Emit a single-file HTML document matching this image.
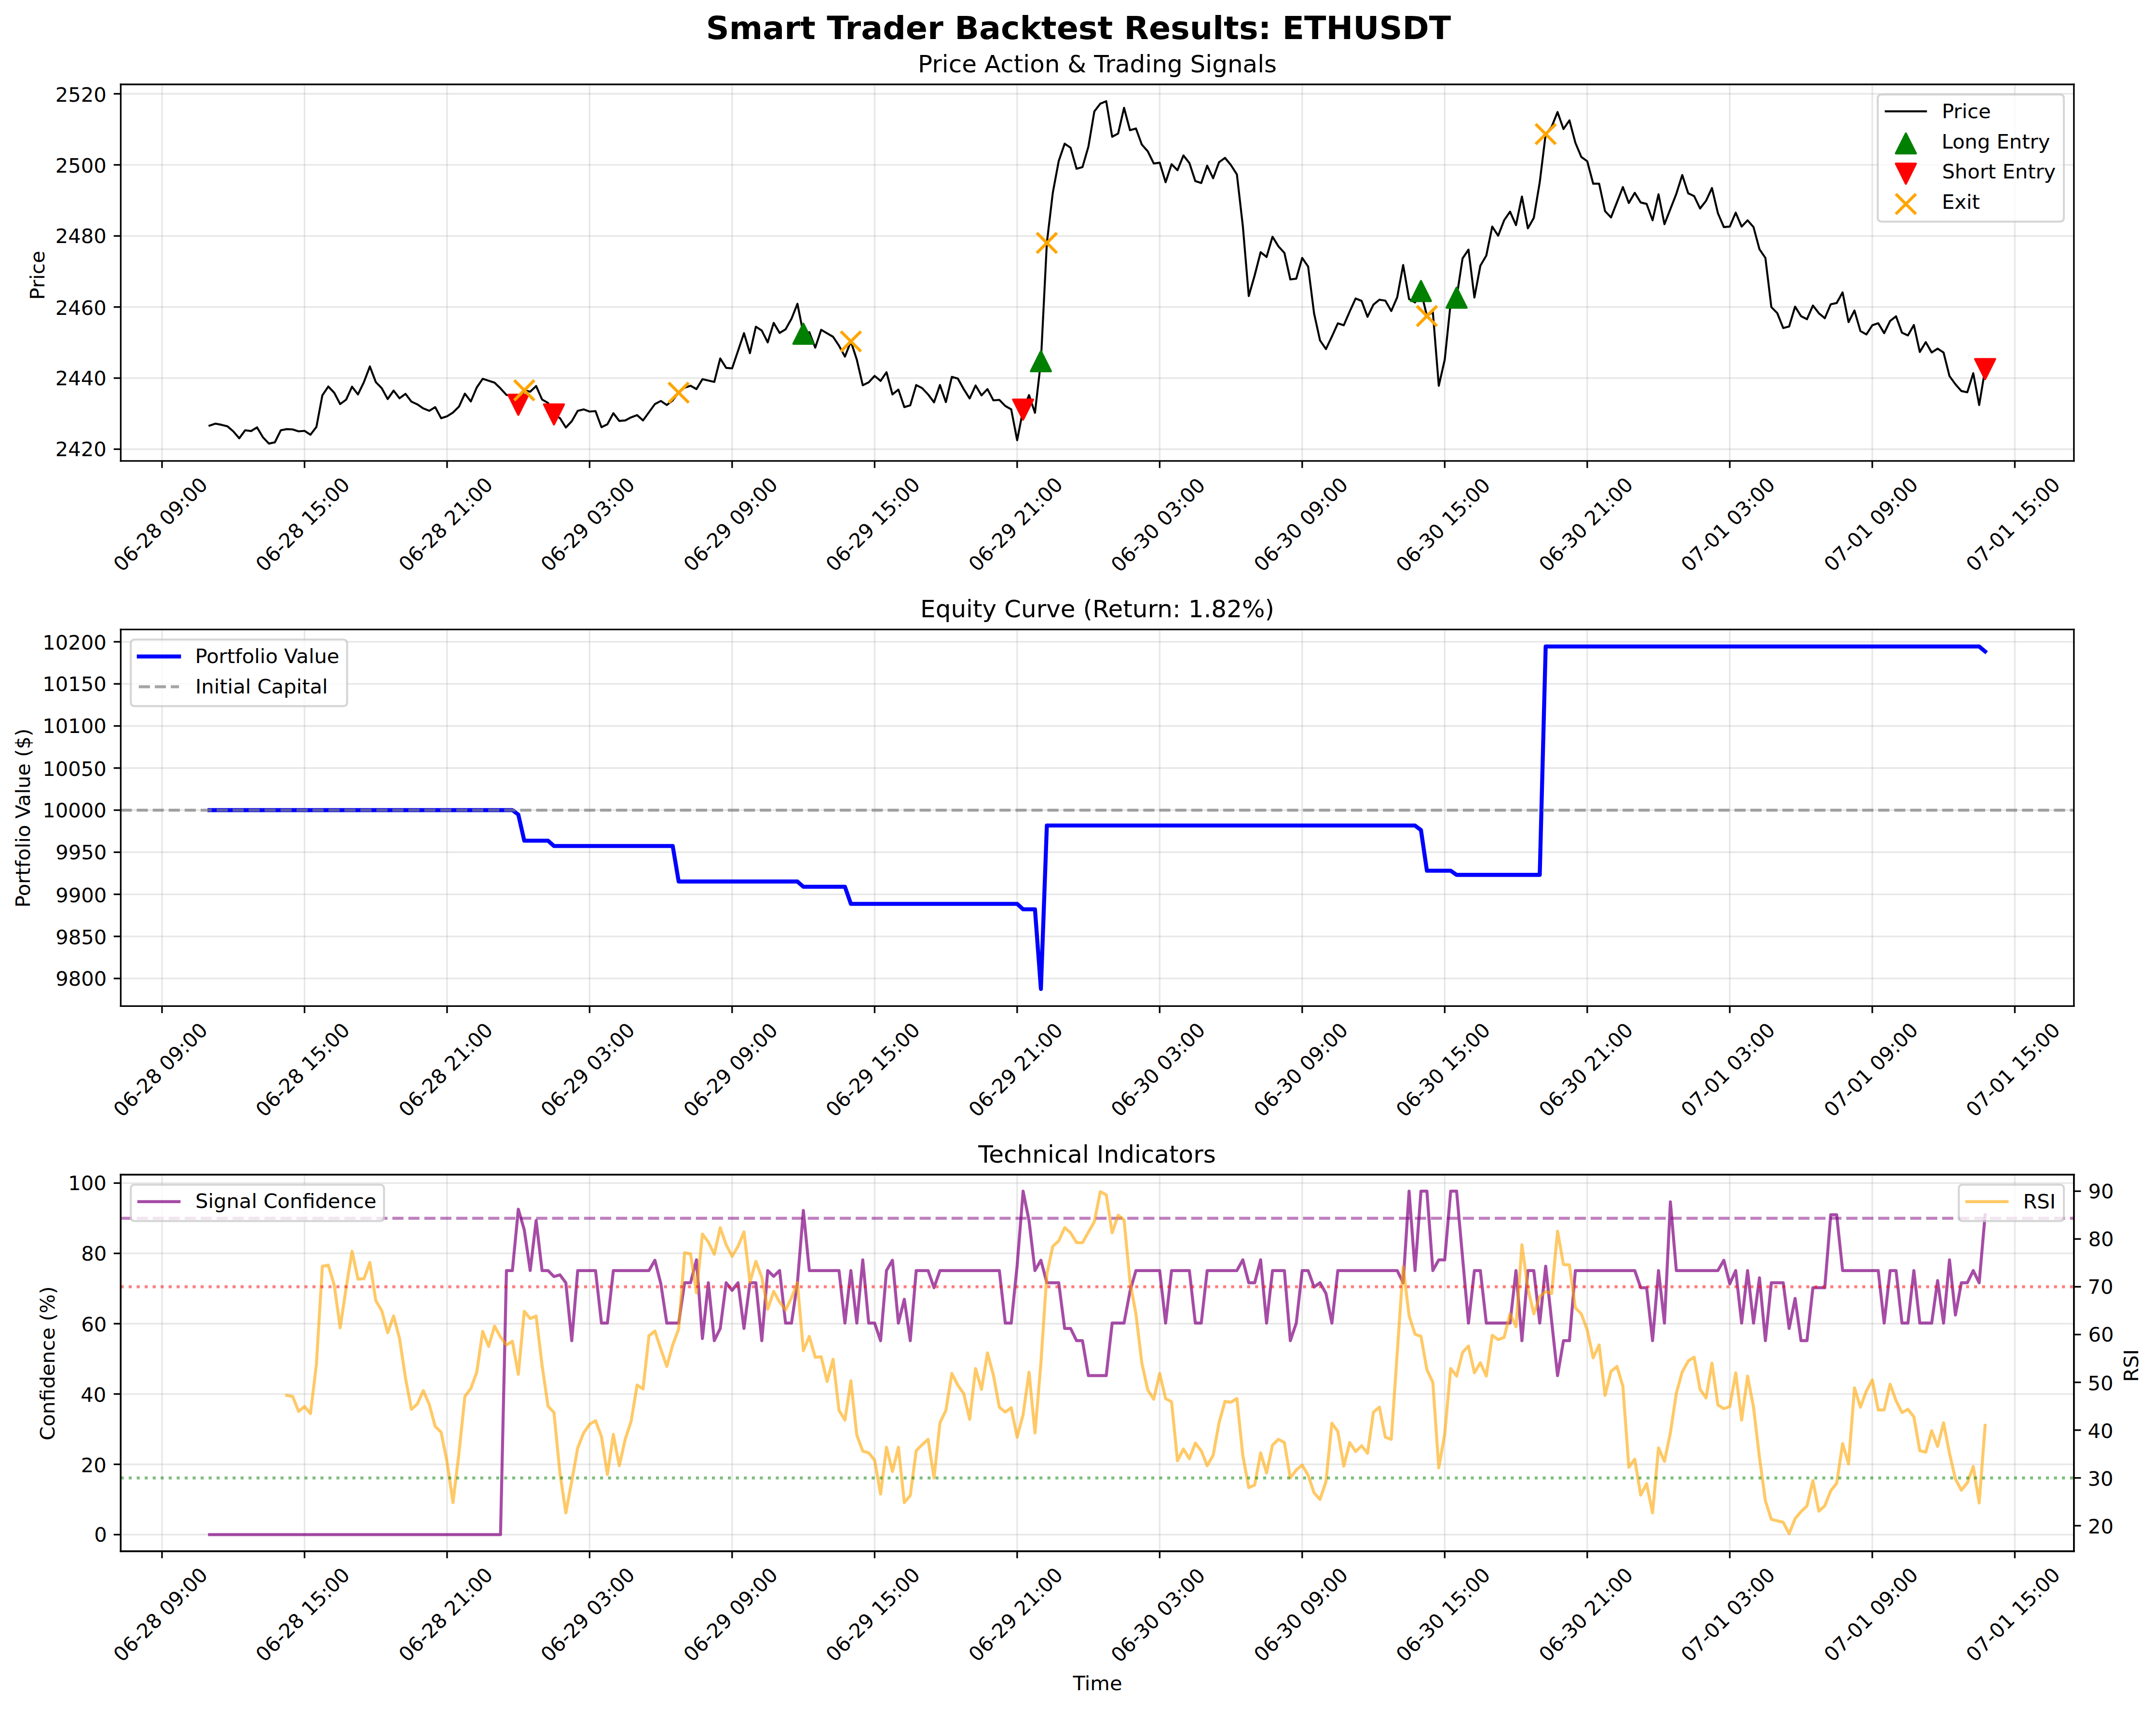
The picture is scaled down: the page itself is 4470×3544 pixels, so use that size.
<!DOCTYPE html>
<html lang="en">
<head>
<meta charset="utf-8">
<title>Smart Trader Backtest Results: ETHUSDT</title>
<style>
html,body{margin:0;padding:0;background:#ffffff;width:4470px;height:3544px;overflow:hidden;}
body{width:4470px;height:3544px;overflow:hidden;position:relative;}
svg{display:block;position:absolute;left:0;top:0;}
</style>
</head>
<body>
<svg width="4470" height="3544" viewBox="0 0 1072.8000 850.5600" preserveAspectRatio="xMinYMin meet">
 <defs>
  <style type="text/css">*{stroke-linejoin: round; stroke-linecap: butt}</style>
 </defs>
 <g id="figure_1">
  <g id="patch_1">
   <path d="M 0 850.616985 L 1072.98 850.616985 L 1072.98 0 L 0 0 z" style="fill: #ffffff"/>
  </g>
  <g id="axes_1">
   <g id="patch_2">
    <path d="M 60.08 229.405933 L 1031.95 229.405933 L 1031.95 42 L 60.08 42 z" style="fill: #ffffff"/>
   </g>
   <g id="matplotlib.axis_1">
    <g id="xtick_1">
     <g id="line2d_1">
      <path d="M 80.616627 229.405933 L 80.616627 42" clip-path="url(#pe644cf9494)" style="fill: none; stroke: #b0b0b0; stroke-opacity: 0.3; stroke-width: 0.8; stroke-linecap: square"/>
     </g>
     <g id="line2d_2">
      <g>
       <path d="M 0 0 L 0 3.5" transform="translate(80.616627 229.405933)" style="stroke: #000000; stroke-width: 0.8"/>
      </g>
     </g>
     <g id="tx000" transform="translate(-0.360 -0.120)">
      <text style="font-size: 10px; font-family: 'DejaVu Sans', 'Liberation Sans', sans-serif" transform="translate(61.089873 285.132661) rotate(-45)">06-28 09:00</text>
     </g>
    </g>
    <g id="xtick_2">
     <g id="line2d_3">
      <path d="M 151.534474 229.405933 L 151.534474 42" clip-path="url(#pe644cf9494)" style="fill: none; stroke: #b0b0b0; stroke-opacity: 0.3; stroke-width: 0.8; stroke-linecap: square"/>
     </g>
     <g id="line2d_4">
      <g>
       <path d="M 0 0 L 0 3.5" transform="translate(151.534474 229.405933)" style="stroke: #000000; stroke-width: 0.8"/>
      </g>
     </g>
     <g id="tx001" transform="translate(-0.480 -0.120)">
      <text style="font-size: 10px; font-family: 'DejaVu Sans', 'Liberation Sans', sans-serif" transform="translate(131.997114 285.153874) rotate(-45)">06-28 15:00</text>
     </g>
    </g>
    <g id="xtick_3">
     <g id="line2d_5">
      <path d="M 222.452321 229.405933 L 222.452321 42" clip-path="url(#pe644cf9494)" style="fill: none; stroke: #b0b0b0; stroke-opacity: 0.3; stroke-width: 0.8; stroke-linecap: square"/>
     </g>
     <g id="line2d_6">
      <g>
       <path d="M 0 0 L 0 3.5" transform="translate(222.452321 229.405933)" style="stroke: #000000; stroke-width: 0.8"/>
      </g>
     </g>
     <g id="tx002" transform="translate(-0.240 -0.120)">
      <text style="font-size: 10px; font-family: 'DejaVu Sans', 'Liberation Sans', sans-serif" transform="translate(202.925568 285.132661) rotate(-45)">06-28 21:00</text>
     </g>
    </g>
    <g id="xtick_4">
     <g id="line2d_7">
      <path d="M 293.370169 229.405933 L 293.370169 42" clip-path="url(#pe644cf9494)" style="fill: none; stroke: #b0b0b0; stroke-opacity: 0.3; stroke-width: 0.8; stroke-linecap: square"/>
     </g>
     <g id="line2d_8">
      <g>
       <path d="M 0 0 L 0 3.5" transform="translate(293.370169 229.405933)" style="stroke: #000000; stroke-width: 0.8"/>
      </g>
     </g>
     <g id="tx003" transform="translate(-0.480 -0.120)">
      <text style="font-size: 10px; font-family: 'DejaVu Sans', 'Liberation Sans', sans-serif" transform="translate(273.843415 285.132661) rotate(-45)">06-29 03:00</text>
     </g>
    </g>
    <g id="xtick_5">
     <g id="line2d_9">
      <path d="M 364.288016 229.405933 L 364.288016 42" clip-path="url(#pe644cf9494)" style="fill: none; stroke: #b0b0b0; stroke-opacity: 0.3; stroke-width: 0.8; stroke-linecap: square"/>
     </g>
     <g id="line2d_10">
      <g>
       <path d="M 0 0 L 0 3.5" transform="translate(364.288016 229.405933)" style="stroke: #000000; stroke-width: 0.8"/>
      </g>
     </g>
     <g id="tx004" transform="translate(-0.360 -0.120)">
      <text style="font-size: 10px; font-family: 'DejaVu Sans', 'Liberation Sans', sans-serif" transform="translate(344.782476 285.090235) rotate(-45)">06-29 09:00</text>
     </g>
    </g>
    <g id="xtick_6">
     <g id="line2d_11">
      <path d="M 435.205863 229.405933 L 435.205863 42" clip-path="url(#pe644cf9494)" style="fill: none; stroke: #b0b0b0; stroke-opacity: 0.3; stroke-width: 0.8; stroke-linecap: square"/>
     </g>
     <g id="line2d_12">
      <g>
       <path d="M 0 0 L 0 3.5" transform="translate(435.205863 229.405933)" style="stroke: #000000; stroke-width: 0.8"/>
      </g>
     </g>
     <g id="tx005" transform="translate(-0.480 -0.120)">
      <text style="font-size: 10px; font-family: 'DejaVu Sans', 'Liberation Sans', sans-serif" transform="translate(415.689716 285.111448) rotate(-45)">06-29 15:00</text>
     </g>
    </g>
    <g id="xtick_7">
     <g id="line2d_13">
      <path d="M 506.123711 229.405933 L 506.123711 42" clip-path="url(#pe644cf9494)" style="fill: none; stroke: #b0b0b0; stroke-opacity: 0.3; stroke-width: 0.8; stroke-linecap: square"/>
     </g>
     <g id="line2d_14">
      <g>
       <path d="M 0 0 L 0 3.5" transform="translate(506.123711 229.405933)" style="stroke: #000000; stroke-width: 0.8"/>
      </g>
     </g>
     <g id="tx006" transform="translate(-0.360 -0.120)">
      <text style="font-size: 10px; font-family: 'DejaVu Sans', 'Liberation Sans', sans-serif" transform="translate(486.61817 285.090235) rotate(-45)">06-29 21:00</text>
     </g>
    </g>
    <g id="xtick_8">
     <g id="line2d_15">
      <path d="M 577.041558 229.405933 L 577.041558 42" clip-path="url(#pe644cf9494)" style="fill: none; stroke: #b0b0b0; stroke-opacity: 0.3; stroke-width: 0.8; stroke-linecap: square"/>
     </g>
     <g id="line2d_16">
      <g>
       <path d="M 0 0 L 0 3.5" transform="translate(577.041558 229.405933)" style="stroke: #000000; stroke-width: 0.8"/>
      </g>
     </g>
     <g id="tx007" transform="translate(-0.360 0.120)">
      <text style="font-size: 10px; font-family: 'DejaVu Sans', 'Liberation Sans', sans-serif" transform="translate(557.482985 285.196301) rotate(-45)">06-30 03:00</text>
     </g>
    </g>
    <g id="xtick_9">
     <g id="line2d_17">
      <path d="M 647.959406 229.405933 L 647.959406 42" clip-path="url(#pe644cf9494)" style="fill: none; stroke: #b0b0b0; stroke-opacity: 0.3; stroke-width: 0.8; stroke-linecap: square"/>
     </g>
     <g id="line2d_18">
      <g>
       <path d="M 0 0 L 0 3.5" transform="translate(647.959406 229.405933)" style="stroke: #000000; stroke-width: 0.8"/>
      </g>
     </g>
     <g id="tx008" transform="translate(-0.240 -0.120)">
      <text style="font-size: 10px; font-family: 'DejaVu Sans', 'Liberation Sans', sans-serif" transform="translate(628.422045 285.153874) rotate(-45)">06-30 09:00</text>
     </g>
    </g>
    <g id="xtick_10">
     <g id="line2d_19">
      <path d="M 718.877253 229.405933 L 718.877253 42" clip-path="url(#pe644cf9494)" style="fill: none; stroke: #b0b0b0; stroke-opacity: 0.3; stroke-width: 0.8; stroke-linecap: square"/>
     </g>
     <g id="line2d_20">
      <g>
       <path d="M 0 0 L 0 3.5" transform="translate(718.877253 229.405933)" style="stroke: #000000; stroke-width: 0.8"/>
      </g>
     </g>
     <g id="tx009" transform="translate(-0.360 0.120)">
      <text style="font-size: 10px; font-family: 'DejaVu Sans', 'Liberation Sans', sans-serif" transform="translate(699.329286 285.175088) rotate(-45)">06-30 15:00</text>
     </g>
    </g>
    <g id="xtick_11">
     <g id="line2d_21">
      <path d="M 789.7951 229.405933 L 789.7951 42" clip-path="url(#pe644cf9494)" style="fill: none; stroke: #b0b0b0; stroke-opacity: 0.3; stroke-width: 0.8; stroke-linecap: square"/>
     </g>
     <g id="line2d_22">
      <g>
       <path d="M 0 0 L 0 3.5" transform="translate(789.7951 229.405933)" style="stroke: #000000; stroke-width: 0.8"/>
      </g>
     </g>
     <g id="tx010" transform="translate(-0.240 -0.120)">
      <text style="font-size: 10px; font-family: 'DejaVu Sans', 'Liberation Sans', sans-serif" transform="translate(770.25774 285.153874) rotate(-45)">06-30 21:00</text>
     </g>
    </g>
    <g id="xtick_12">
     <g id="line2d_23">
      <path d="M 860.712948 229.405933 L 860.712948 42" clip-path="url(#pe644cf9494)" style="fill: none; stroke: #b0b0b0; stroke-opacity: 0.3; stroke-width: 0.8; stroke-linecap: square"/>
     </g>
     <g id="line2d_24">
      <g>
       <path d="M 0 0 L 0 3.5" transform="translate(860.712948 229.405933)" style="stroke: #000000; stroke-width: 0.8"/>
      </g>
     </g>
     <g id="tx011" transform="translate(-0.480 -0.120)">
      <text style="font-size: 10px; font-family: 'DejaVu Sans', 'Liberation Sans', sans-serif" transform="translate(841.175587 285.153874) rotate(-45)">07-01 03:00</text>
     </g>
    </g>
    <g id="xtick_13">
     <g id="line2d_25">
      <path d="M 931.630795 229.405933 L 931.630795 42" clip-path="url(#pe644cf9494)" style="fill: none; stroke: #b0b0b0; stroke-opacity: 0.3; stroke-width: 0.8; stroke-linecap: square"/>
     </g>
     <g id="line2d_26">
      <g>
       <path d="M 0 0 L 0 3.5" transform="translate(931.630795 229.405933)" style="stroke: #000000; stroke-width: 0.8"/>
      </g>
     </g>
     <g id="tx012" transform="translate(-0.240 -0.120)">
      <text style="font-size: 10px; font-family: 'DejaVu Sans', 'Liberation Sans', sans-serif" transform="translate(912.114648 285.111448) rotate(-45)">07-01 09:00</text>
     </g>
    </g>
    <g id="xtick_14">
     <g id="line2d_27">
      <path d="M 1002.548642 229.405933 L 1002.548642 42" clip-path="url(#pe644cf9494)" style="fill: none; stroke: #b0b0b0; stroke-opacity: 0.3; stroke-width: 0.8; stroke-linecap: square"/>
     </g>
     <g id="line2d_28">
      <g>
       <path d="M 0 0 L 0 3.5" transform="translate(1002.548642 229.405933)" style="stroke: #000000; stroke-width: 0.8"/>
      </g>
     </g>
     <g id="tx013" transform="translate(-0.480 -0.120)">
      <text style="font-size: 10px; font-family: 'DejaVu Sans', 'Liberation Sans', sans-serif" transform="translate(983.021889 285.132661) rotate(-45)">07-01 15:00</text>
     </g>
    </g>
   </g>
   <g id="matplotlib.axis_2">
    <g id="ytick_1">
     <g id="line2d_29">
      <path d="M 60.08 223.551708 L 1031.95 223.551708" clip-path="url(#pe644cf9494)" style="fill: none; stroke: #b0b0b0; stroke-opacity: 0.3; stroke-width: 0.8; stroke-linecap: square"/>
     </g>
     <g id="line2d_30">
      <g>
       <path d="M 0 0 L -3.5 0" transform="translate(60.08 223.551708)" style="stroke: #000000; stroke-width: 0.8"/>
      </g>
     </g>
     <g id="tx016" transform="translate(-0.120 -0.360)">
      <text style="font-size: 10px; font-family: 'DejaVu Sans', 'Liberation Sans', sans-serif; text-anchor: end" x="53.08" y="227.511708" transform="rotate(-0 53.08 227.511708)">2420</text>
     </g>
    </g>
    <g id="ytick_2">
     <g id="line2d_31">
      <path d="M 60.08 188.17875 L 1031.95 188.17875" clip-path="url(#pe644cf9494)" style="fill: none; stroke: #b0b0b0; stroke-opacity: 0.3; stroke-width: 0.8; stroke-linecap: square"/>
     </g>
     <g id="line2d_32">
      <g>
       <path d="M 0 0 L -3.5 0" transform="translate(60.08 188.17875)" style="stroke: #000000; stroke-width: 0.8"/>
      </g>
     </g>
     <g id="tx017" transform="translate(-0.120 -0.360)">
      <text style="font-size: 10px; font-family: 'DejaVu Sans', 'Liberation Sans', sans-serif; text-anchor: end" x="53.08" y="192.13875" transform="rotate(-0 53.08 192.13875)">2440</text>
     </g>
    </g>
    <g id="ytick_3">
     <g id="line2d_33">
      <path d="M 60.08 152.805792 L 1031.95 152.805792" clip-path="url(#pe644cf9494)" style="fill: none; stroke: #b0b0b0; stroke-opacity: 0.3; stroke-width: 0.8; stroke-linecap: square"/>
     </g>
     <g id="line2d_34">
      <g>
       <path d="M 0 0 L -3.5 0" transform="translate(60.08 152.805792)" style="stroke: #000000; stroke-width: 0.8"/>
      </g>
     </g>
     <g id="tx018" transform="translate(-0.120 -0.120)">
      <text style="font-size: 10px; font-family: 'DejaVu Sans', 'Liberation Sans', sans-serif; text-anchor: end" x="53.08" y="156.765792" transform="rotate(-0 53.08 156.765792)">2460</text>
     </g>
    </g>
    <g id="ytick_4">
     <g id="line2d_35">
      <path d="M 60.08 117.432834 L 1031.95 117.432834" clip-path="url(#pe644cf9494)" style="fill: none; stroke: #b0b0b0; stroke-opacity: 0.3; stroke-width: 0.8; stroke-linecap: square"/>
     </g>
     <g id="line2d_36">
      <g>
       <path d="M 0 0 L -3.5 0" transform="translate(60.08 117.432834)" style="stroke: #000000; stroke-width: 0.8"/>
      </g>
     </g>
     <g id="tx019" transform="translate(-0.120 -0.360)">
      <text style="font-size: 10px; font-family: 'DejaVu Sans', 'Liberation Sans', sans-serif; text-anchor: end" x="53.08" y="121.392834" transform="rotate(-0 53.08 121.392834)">2480</text>
     </g>
    </g>
    <g id="ytick_5">
     <g id="line2d_37">
      <path d="M 60.08 82.059875 L 1031.95 82.059875" clip-path="url(#pe644cf9494)" style="fill: none; stroke: #b0b0b0; stroke-opacity: 0.3; stroke-width: 0.8; stroke-linecap: square"/>
     </g>
     <g id="line2d_38">
      <g>
       <path d="M 0 0 L -3.5 0" transform="translate(60.08 82.059875)" style="stroke: #000000; stroke-width: 0.8"/>
      </g>
     </g>
     <g id="tx020" transform="translate(-0.120 -0.120)">
      <text style="font-size: 10px; font-family: 'DejaVu Sans', 'Liberation Sans', sans-serif; text-anchor: end" x="53.08" y="86.019875" transform="rotate(-0 53.08 86.019875)">2500</text>
     </g>
    </g>
    <g id="ytick_6">
     <g id="line2d_39">
      <path d="M 60.08 46.686917 L 1031.95 46.686917" clip-path="url(#pe644cf9494)" style="fill: none; stroke: #b0b0b0; stroke-opacity: 0.3; stroke-width: 0.8; stroke-linecap: square"/>
     </g>
     <g id="line2d_40">
      <g>
       <path d="M 0 0 L -3.5 0" transform="translate(60.08 46.686917)" style="stroke: #000000; stroke-width: 0.8"/>
      </g>
     </g>
     <g id="tx021" transform="translate(-0.120 -0.120)">
      <text style="font-size: 10px; font-family: 'DejaVu Sans', 'Liberation Sans', sans-serif; text-anchor: end" x="53.08" y="50.646917" transform="rotate(-0 53.08 50.646917)">2520</text>
     </g>
    </g>
    <g id="tx014" transform="translate(0.720 1.320)">
     <text style="font-size: 10px; font-family: 'DejaVu Sans', 'Liberation Sans', sans-serif; text-anchor: middle" x="21.48" y="135.702966" transform="rotate(-90 21.48 135.702966)">Price</text>
    </g>
   </g>
   <g id="line2d_41">
    <path d="M 104.255909 211.848819 L 107.210819 210.841373 L 110.16573 211.417056 L 113.12064 212.13666 L 116.07555 214.679262 L 119.030461 218.133362 L 121.985371 214.151552 L 124.940281 214.535341 L 127.895192 212.712344 L 130.850102 217.653626 L 133.805012 220.77191 L 136.759922 220.148253 L 139.714833 214.151552 L 142.669743 213.575869 L 145.624653 213.719789 L 148.579564 214.679262 L 151.534474 214.439394 L 154.489384 216.358338 L 157.444295 212.472476 L 160.399205 196.785105 L 163.354115 192.371532 L 166.309026 195.489817 L 169.263936 201.10273 L 172.218846 198.943917 L 175.173756 192.46748 L 178.128667 196.305369 L 181.083577 190.164746 L 184.038487 182.393021 L 186.993398 190.164746 L 189.948308 193.187084 L 192.903218 198.608102 L 195.858129 194.386424 L 198.813039 198.224313 L 201.767949 196.017527 L 204.72286 199.903389 L 207.67777 201.246651 L 210.63268 203.261542 L 213.58759 204.460882 L 216.542501 202.637885 L 219.497411 208.154851 L 222.452321 207.195378 L 225.407232 205.324407 L 228.362142 202.398017 L 231.317052 195.92158 L 234.271963 199.807442 L 237.226873 192.851269 L 240.181783 188.533644 L 246.091604 190.452588 L 249.046514 193.331005 L 252.001424 196.545237 L 254.956335 197.024973 L 257.911245 201.449609 L 260.866155 194.250228 L 263.821066 194.962107 L 266.775976 192.131664 L 269.730886 198.84797 L 272.685797 200.527046 L 275.640707 206.249196 L 278.595617 208.058903 L 281.550528 212.760317 L 284.505438 209.642032 L 287.460348 204.460882 L 290.415258 203.741278 L 293.370169 204.844671 L 296.325079 204.604803 L 299.279989 212.610831 L 302.2349 211.166057 L 305.18981 205.649092 L 308.14472 209.486981 L 311.099631 209.247113 L 314.054541 207.711957 L 317.009451 206.608564 L 319.964362 209.247113 L 325.874182 201.091599 L 328.829092 199.556443 L 331.784003 201.571335 L 334.738913 199.268602 L 337.693823 195.426127 L 340.648734 192.936085 L 343.603644 191.976613 L 346.558554 193.655689 L 349.513465 188.714407 L 355.423285 190.057668 L 358.378196 178.400081 L 361.333106 183.101495 L 364.288016 183.341363 L 370.197837 165.830995 L 373.152747 175.761532 L 376.107657 162.616763 L 379.062568 164.535707 L 382.017478 170.388488 L 384.972388 160.697818 L 387.927299 165.687074 L 390.882209 163.91205 L 393.837119 158.634953 L 396.792029 151.194591 L 399.74694 166.076651 L 402.70185 165.346806 L 405.65676 173.022584 L 408.611671 164.147466 L 414.521491 167.601566 L 417.476402 172.063112 L 420.431312 177.48413 L 423.386222 169.91632 L 426.341133 179.019285 L 429.296043 191.732292 L 432.250953 190.293084 L 435.205863 187.078852 L 438.160774 189.57348 L 441.115684 185.255855 L 444.070594 196.289785 L 447.025505 193.891105 L 449.980415 202.622302 L 452.935325 201.710804 L 455.890236 191.636345 L 458.845146 193.171501 L 461.800056 196.289785 L 464.754967 200.223622 L 467.709877 191.636345 L 470.664787 200.127674 L 473.619697 187.558588 L 476.574608 188.37414 L 479.529518 193.651237 L 482.484428 198.304677 L 485.439339 191.876213 L 488.394249 196.769522 L 491.349159 193.651237 L 494.30407 199.264783 L 497.25898 199.014022 L 500.21389 202.052071 L 503.168801 203.724063 L 506.123711 219.081619 L 509.078621 203.849403 L 512.033531 196.664541 L 514.988442 205.45798 L 517.943352 179.755474 L 520.898262 120.912534 L 523.853173 95.978189 L 526.808083 80.146897 L 529.762993 71.511647 L 532.717904 73.526539 L 535.672814 83.984786 L 538.627724 83.169234 L 541.582635 72.950855 L 544.537545 55.440487 L 547.492455 51.602598 L 550.447365 50.403258 L 553.402276 68.057547 L 556.357186 66.474418 L 559.312096 53.665463 L 562.267007 64.795341 L 565.221917 63.931816 L 568.176827 71.991383 L 571.131738 75.349536 L 574.086648 81.346237 L 577.041558 80.962448 L 579.996469 90.701091 L 582.951379 81.730026 L 585.906289 84.70439 L 588.861199 77.364427 L 591.81611 81.106369 L 594.77102 90.125408 L 597.72593 91.08488 L 600.680841 82.44963 L 603.635751 88.6862 L 606.590661 80.72258 L 609.545572 78.563768 L 612.500482 82.161789 L 615.455392 86.767255 L 618.410303 112.416942 L 621.365213 147.325536 L 624.320123 137.011209 L 627.275033 125.497543 L 630.229944 127.896223 L 633.184854 117.821765 L 636.139764 122.619126 L 639.094675 125.833358 L 642.049585 139.074075 L 645.004495 138.690286 L 647.959406 128.375959 L 650.914316 132.693584 L 653.869226 155.9875 L 656.824137 169.420111 L 659.779047 173.737736 L 662.733957 167.501166 L 665.688867 160.928782 L 668.643778 161.888254 L 671.598688 155.028027 L 674.553598 148.55159 L 677.508509 149.75093 L 680.463419 157.666576 L 683.418329 151.573927 L 686.37324 149.175247 L 689.32815 149.654983 L 692.28306 154.788159 L 695.237971 147.927933 L 698.192881 131.904747 L 701.147791 148.87013 L 704.102701 150.549986 L 707.057612 144.838477 L 710.012522 157.293406 L 712.967432 155.325575 L 715.922343 191.994422 L 718.877253 179.035536 L 721.832163 150.717971 L 724.787074 148.150192 L 727.741984 128.63987 L 730.696894 124.22425 L 733.651805 148.0542 L 736.606715 132.23956 L 739.561625 127.199994 L 742.516535 112.768953 L 745.471446 117.326446 L 748.426356 109.650668 L 751.381266 105.333043 L 754.336177 112.049348 L 757.291087 97.801186 L 760.245997 113.632478 L 763.200908 108.451328 L 766.155818 90.701091 L 769.110728 66.725194 L 772.065638 63.116265 L 775.020549 55.776302 L 777.975459 64.219658 L 780.930369 59.902033 L 783.88528 71.031911 L 786.84019 78.132005 L 789.7951 80.242844 L 792.750011 91.420696 L 795.704921 91.420696 L 798.659831 105.093175 L 801.614742 108.21146 L 807.524562 93.099772 L 810.479472 101.015418 L 813.434383 95.978189 L 816.389293 100.77555 L 819.344203 101.495154 L 822.299114 109.657346 L 825.254024 96.71115 L 828.208934 111.582969 L 834.118755 96.471282 L 837.073665 87.116427 L 840.028576 96.231414 L 842.983486 97.574675 L 845.938396 103.763271 L 848.893306 99.973355 L 851.848217 93.592865 L 854.803127 106.066004 L 857.758037 113.022178 L 860.712948 112.782309 L 863.667858 105.826136 L 866.622768 112.782309 L 869.577679 109.664025 L 872.532589 113.022178 L 875.487499 124.056108 L 878.44241 128.373733 L 881.39732 152.840275 L 884.35223 155.85353 L 887.30714 163.268892 L 890.262051 162.466163 L 893.216961 152.631573 L 896.171871 157.332987 L 899.126782 158.868142 L 902.081692 152.05589 L 905.036602 155.893779 L 907.991513 158.388406 L 910.946423 151.432233 L 913.901333 150.808576 L 916.856244 145.531479 L 919.811154 160.307351 L 922.766064 154.550517 L 925.720974 164.768897 L 928.675885 166.447973 L 931.630795 161.89048 L 934.585705 160.883034 L 937.540616 165.824316 L 940.495526 159.731667 L 943.450436 157.428934 L 946.405347 165.584448 L 949.360257 166.927709 L 952.315167 161.746559 L 955.270078 175.17917 L 958.224988 170.285862 L 961.179898 175.419038 L 964.134808 173.500094 L 967.089719 175.419038 L 970.044629 187.172573 L 972.999539 191.25033 L 975.95445 194.608483 L 978.90936 195.23214 L 981.86427 185.733365 L 984.819181 201.564657 L 987.774091 183.691136 L 987.774091 183.691136" clip-path="url(#pe644cf9494)" style="fill: none; stroke: #000000; stroke-linecap: square"/>
   </g>
   <g id="patch_3">
    <path d="M 60.08 229.405933 L 60.08 42" style="fill: none; stroke: #000000; stroke-width: 0.8; stroke-linejoin: miter; stroke-linecap: square"/>
   </g>
   <g id="patch_4">
    <path d="M 1031.95 229.405933 L 1031.95 42" style="fill: none; stroke: #000000; stroke-width: 0.8; stroke-linejoin: miter; stroke-linecap: square"/>
   </g>
   <g id="patch_5">
    <path d="M 60.08 229.405933 L 1031.95 229.405933" style="fill: none; stroke: #000000; stroke-width: 0.8; stroke-linejoin: miter; stroke-linecap: square"/>
   </g>
   <g id="patch_6">
    <path d="M 60.08 42 L 1031.95 42" style="fill: none; stroke: #000000; stroke-width: 0.8; stroke-linejoin: miter; stroke-linecap: square"/>
   </g>
   <g id="tx023" transform="translate(0.000 0.000)">
    <text style="font-size: 12px; font-family: 'DejaVu Sans', 'Liberation Sans', sans-serif; text-anchor: middle" x="546.015" y="36" transform="rotate(-0 546.015 36)">Price Action &amp; Trading Signals</text>
   </g>
   <g id="PathCollection_1">
    <g clip-path="url(#pe644cf9494)">
     <path d="M 0 -5 L -5 5 L 5 5 z" transform="translate(399.74694 166.076651)" style="fill: #008000; stroke: #008000"/>
     <path d="M 0 -5 L -5 5 L 5 5 z" transform="translate(517.943352 179.755474)" style="fill: #008000; stroke: #008000"/>
     <path d="M 0 -5 L -5 5 L 5 5 z" transform="translate(707.057612 144.838477)" style="fill: #008000; stroke: #008000"/>
     <path d="M 0 -5 L -5 5 L 5 5 z" transform="translate(724.787074 148.150192)" style="fill: #008000; stroke: #008000"/>
    </g>
   </g>
   <g id="PathCollection_2">
    <g clip-path="url(#pe644cf9494)">
     <path d="M -0 5 L 5 -5 L -5 -5 z" transform="translate(257.911245 201.449609)" style="fill: #ff0000; stroke: #ff0000"/>
     <path d="M -0 5 L 5 -5 L -5 -5 z" transform="translate(275.640707 206.249196)" style="fill: #ff0000; stroke: #ff0000"/>
     <path d="M -0 5 L 5 -5 L -5 -5 z" transform="translate(509.078621 203.849403)" style="fill: #ff0000; stroke: #ff0000"/>
     <path d="M -0 5 L 5 -5 L -5 -5 z" transform="translate(987.774091 183.691136)" style="fill: #ff0000; stroke: #ff0000"/>
    </g>
   </g>
   <g id="PathCollection_3">
    <g clip-path="url(#pe644cf9494)">
     <path d="M -5 5 L 5 -5 M -5 -5 L 5 5" transform="translate(260.866155 194.250228)" style="fill: #ffa500; stroke: #ffa500; stroke-width: 1.5"/>
     <path d="M -5 5 L 5 -5 M -5 -5 L 5 5" transform="translate(337.693823 195.426127)" style="fill: #ffa500; stroke: #ffa500; stroke-width: 1.5"/>
     <path d="M -5 5 L 5 -5 M -5 -5 L 5 5" transform="translate(423.386222 169.91632)" style="fill: #ffa500; stroke: #ffa500; stroke-width: 1.5"/>
     <path d="M -5 5 L 5 -5 M -5 -5 L 5 5" transform="translate(520.898262 120.912534)" style="fill: #ffa500; stroke: #ffa500; stroke-width: 1.5"/>
     <path d="M -5 5 L 5 -5 M -5 -5 L 5 5" transform="translate(710.012522 157.293406)" style="fill: #ffa500; stroke: #ffa500; stroke-width: 1.5"/>
     <path d="M -5 5 L 5 -5 M -5 -5 L 5 5" transform="translate(769.110728 66.725194)" style="fill: #ffa500; stroke: #ffa500; stroke-width: 1.5"/>
    </g>
   </g>
   <g id="legend_1">
    <g id="patch_7">
     <path d="M 936.34 110.32 L 1024.95 110.32 Q 1026.95 110.32 1026.95 108.32 L 1026.95 49 Q 1026.95 47 1024.95 47 L 936.34 47 Q 934.34 47 934.34 49 L 934.34 108.32 Q 934.34 110.32 936.34 110.32 z" style="fill: #ffffff; opacity: 0.8; stroke: #cccccc; stroke-linejoin: miter"/>
    </g>
    <g id="line2d_42">
     <path d="M 938.34 55.42 L 948.34 55.42 L 958.34 55.42" style="fill: none; stroke: #000000; stroke-linecap: square"/>
    </g>
    <g id="tx024" transform="translate(-0.120 0.000)">
     <text style="font-size: 10px; font-family: 'DejaVu Sans', 'Liberation Sans', sans-serif; text-anchor: start" x="966.34" y="58.92" transform="rotate(-0 966.34 58.92)">Price</text>
    </g>
    <g id="PathCollection_4">
     <g>
      <path d="M 0 -5 L -5 5 L 5 5 z" transform="translate(948.34 71.375)" style="fill: #008000; stroke: #008000"/>
     </g>
    </g>
    <g id="tx025" transform="translate(-0.240 -0.120)">
     <text style="font-size: 10px; font-family: 'DejaVu Sans', 'Liberation Sans', sans-serif; text-anchor: start" x="966.34" y="74" transform="rotate(-0 966.34 74)">Long Entry</text>
    </g>
    <g id="PathCollection_5">
     <g>
      <path d="M -0 5 L 5 -5 L -5 -5 z" transform="translate(948.34 86.455)" style="fill: #ff0000; stroke: #ff0000"/>
     </g>
    </g>
    <g id="tx026" transform="translate(0.000 -0.240)">
     <text style="font-size: 10px; font-family: 'DejaVu Sans', 'Liberation Sans', sans-serif; text-anchor: start" x="966.34" y="89.08" transform="rotate(-0 966.34 89.08)">Short Entry</text>
    </g>
    <g id="PathCollection_6">
     <g>
      <path d="M -5 5 L 5 -5 M -5 -5 L 5 5" transform="translate(948.34 101.535)" style="fill: #ffa500; stroke: #ffa500; stroke-width: 1.5"/>
     </g>
    </g>
    <g id="tx027" transform="translate(-0.120 -0.240)">
     <text style="font-size: 10px; font-family: 'DejaVu Sans', 'Liberation Sans', sans-serif; text-anchor: start" x="966.34" y="104.16" transform="rotate(-0 966.34 104.16)">Exit</text>
    </g>
   </g>
  </g>
  <g id="axes_2">
   <g id="patch_8">
    <path d="M 60.08 500.7126 L 1031.95 500.7126 L 1031.95 313.306667 L 60.08 313.306667 z" style="fill: #ffffff"/>
   </g>
   <g id="matplotlib.axis_3">
    <g id="xtick_15">
     <g id="line2d_43">
      <path d="M 80.616627 500.7126 L 80.616627 313.306667" clip-path="url(#p9d5c9749b2)" style="fill: none; stroke: #b0b0b0; stroke-opacity: 0.3; stroke-width: 0.8; stroke-linecap: square"/>
     </g>
     <g id="line2d_44">
      <g>
       <path d="M 0 0 L 0 3.5" transform="translate(80.616627 500.7126)" style="stroke: #000000; stroke-width: 0.8"/>
      </g>
     </g>
     <g id="tx028" transform="translate(-0.360 0.000)">
      <text style="font-size: 10px; font-family: 'DejaVu Sans', 'Liberation Sans', sans-serif" transform="translate(61.089873 556.439328) rotate(-45)">06-28 09:00</text>
     </g>
    </g>
    <g id="xtick_16">
     <g id="line2d_45">
      <path d="M 151.534474 500.7126 L 151.534474 313.306667" clip-path="url(#p9d5c9749b2)" style="fill: none; stroke: #b0b0b0; stroke-opacity: 0.3; stroke-width: 0.8; stroke-linecap: square"/>
     </g>
     <g id="line2d_46">
      <g>
       <path d="M 0 0 L 0 3.5" transform="translate(151.534474 500.7126)" style="stroke: #000000; stroke-width: 0.8"/>
      </g>
     </g>
     <g id="tx029" transform="translate(-0.480 0.000)">
      <text style="font-size: 10px; font-family: 'DejaVu Sans', 'Liberation Sans', sans-serif" transform="translate(131.997114 556.460541) rotate(-45)">06-28 15:00</text>
     </g>
    </g>
    <g id="xtick_17">
     <g id="line2d_47">
      <path d="M 222.452321 500.7126 L 222.452321 313.306667" clip-path="url(#p9d5c9749b2)" style="fill: none; stroke: #b0b0b0; stroke-opacity: 0.3; stroke-width: 0.8; stroke-linecap: square"/>
     </g>
     <g id="line2d_48">
      <g>
       <path d="M 0 0 L 0 3.5" transform="translate(222.452321 500.7126)" style="stroke: #000000; stroke-width: 0.8"/>
      </g>
     </g>
     <g id="tx030" transform="translate(-0.240 0.000)">
      <text style="font-size: 10px; font-family: 'DejaVu Sans', 'Liberation Sans', sans-serif" transform="translate(202.925568 556.439328) rotate(-45)">06-28 21:00</text>
     </g>
    </g>
    <g id="xtick_18">
     <g id="line2d_49">
      <path d="M 293.370169 500.7126 L 293.370169 313.306667" clip-path="url(#p9d5c9749b2)" style="fill: none; stroke: #b0b0b0; stroke-opacity: 0.3; stroke-width: 0.8; stroke-linecap: square"/>
     </g>
     <g id="line2d_50">
      <g>
       <path d="M 0 0 L 0 3.5" transform="translate(293.370169 500.7126)" style="stroke: #000000; stroke-width: 0.8"/>
      </g>
     </g>
     <g id="tx031" transform="translate(-0.480 0.000)">
      <text style="font-size: 10px; font-family: 'DejaVu Sans', 'Liberation Sans', sans-serif" transform="translate(273.843415 556.439328) rotate(-45)">06-29 03:00</text>
     </g>
    </g>
    <g id="xtick_19">
     <g id="line2d_51">
      <path d="M 364.288016 500.7126 L 364.288016 313.306667" clip-path="url(#p9d5c9749b2)" style="fill: none; stroke: #b0b0b0; stroke-opacity: 0.3; stroke-width: 0.8; stroke-linecap: square"/>
     </g>
     <g id="line2d_52">
      <g>
       <path d="M 0 0 L 0 3.5" transform="translate(364.288016 500.7126)" style="stroke: #000000; stroke-width: 0.8"/>
      </g>
     </g>
     <g id="tx032" transform="translate(-0.360 0.120)">
      <text style="font-size: 10px; font-family: 'DejaVu Sans', 'Liberation Sans', sans-serif" transform="translate(344.782476 556.396902) rotate(-45)">06-29 09:00</text>
     </g>
    </g>
    <g id="xtick_20">
     <g id="line2d_53">
      <path d="M 435.205863 500.7126 L 435.205863 313.306667" clip-path="url(#p9d5c9749b2)" style="fill: none; stroke: #b0b0b0; stroke-opacity: 0.3; stroke-width: 0.8; stroke-linecap: square"/>
     </g>
     <g id="line2d_54">
      <g>
       <path d="M 0 0 L 0 3.5" transform="translate(435.205863 500.7126)" style="stroke: #000000; stroke-width: 0.8"/>
      </g>
     </g>
     <g id="tx033" transform="translate(-0.480 0.000)">
      <text style="font-size: 10px; font-family: 'DejaVu Sans', 'Liberation Sans', sans-serif" transform="translate(415.689716 556.418115) rotate(-45)">06-29 15:00</text>
     </g>
    </g>
    <g id="xtick_21">
     <g id="line2d_55">
      <path d="M 506.123711 500.7126 L 506.123711 313.306667" clip-path="url(#p9d5c9749b2)" style="fill: none; stroke: #b0b0b0; stroke-opacity: 0.3; stroke-width: 0.8; stroke-linecap: square"/>
     </g>
     <g id="line2d_56">
      <g>
       <path d="M 0 0 L 0 3.5" transform="translate(506.123711 500.7126)" style="stroke: #000000; stroke-width: 0.8"/>
      </g>
     </g>
     <g id="tx034" transform="translate(-0.360 0.120)">
      <text style="font-size: 10px; font-family: 'DejaVu Sans', 'Liberation Sans', sans-serif" transform="translate(486.61817 556.396902) rotate(-45)">06-29 21:00</text>
     </g>
    </g>
    <g id="xtick_22">
     <g id="line2d_57">
      <path d="M 577.041558 500.7126 L 577.041558 313.306667" clip-path="url(#p9d5c9749b2)" style="fill: none; stroke: #b0b0b0; stroke-opacity: 0.3; stroke-width: 0.8; stroke-linecap: square"/>
     </g>
     <g id="line2d_58">
      <g>
       <path d="M 0 0 L 0 3.5" transform="translate(577.041558 500.7126)" style="stroke: #000000; stroke-width: 0.8"/>
      </g>
     </g>
     <g id="tx035" transform="translate(-0.360 -0.120)">
      <text style="font-size: 10px; font-family: 'DejaVu Sans', 'Liberation Sans', sans-serif" transform="translate(557.482985 556.502968) rotate(-45)">06-30 03:00</text>
     </g>
    </g>
    <g id="xtick_23">
     <g id="line2d_59">
      <path d="M 647.959406 500.7126 L 647.959406 313.306667" clip-path="url(#p9d5c9749b2)" style="fill: none; stroke: #b0b0b0; stroke-opacity: 0.3; stroke-width: 0.8; stroke-linecap: square"/>
     </g>
     <g id="line2d_60">
      <g>
       <path d="M 0 0 L 0 3.5" transform="translate(647.959406 500.7126)" style="stroke: #000000; stroke-width: 0.8"/>
      </g>
     </g>
     <g id="tx036" transform="translate(-0.240 0.000)">
      <text style="font-size: 10px; font-family: 'DejaVu Sans', 'Liberation Sans', sans-serif" transform="translate(628.422045 556.460541) rotate(-45)">06-30 09:00</text>
     </g>
    </g>
    <g id="xtick_24">
     <g id="line2d_61">
      <path d="M 718.877253 500.7126 L 718.877253 313.306667" clip-path="url(#p9d5c9749b2)" style="fill: none; stroke: #b0b0b0; stroke-opacity: 0.3; stroke-width: 0.8; stroke-linecap: square"/>
     </g>
     <g id="line2d_62">
      <g>
       <path d="M 0 0 L 0 3.5" transform="translate(718.877253 500.7126)" style="stroke: #000000; stroke-width: 0.8"/>
      </g>
     </g>
     <g id="tx037" transform="translate(-0.360 0.000)">
      <text style="font-size: 10px; font-family: 'DejaVu Sans', 'Liberation Sans', sans-serif" transform="translate(699.329286 556.481754) rotate(-45)">06-30 15:00</text>
     </g>
    </g>
    <g id="xtick_25">
     <g id="line2d_63">
      <path d="M 789.7951 500.7126 L 789.7951 313.306667" clip-path="url(#p9d5c9749b2)" style="fill: none; stroke: #b0b0b0; stroke-opacity: 0.3; stroke-width: 0.8; stroke-linecap: square"/>
     </g>
     <g id="line2d_64">
      <g>
       <path d="M 0 0 L 0 3.5" transform="translate(789.7951 500.7126)" style="stroke: #000000; stroke-width: 0.8"/>
      </g>
     </g>
     <g id="tx038" transform="translate(-0.240 0.000)">
      <text style="font-size: 10px; font-family: 'DejaVu Sans', 'Liberation Sans', sans-serif" transform="translate(770.25774 556.460541) rotate(-45)">06-30 21:00</text>
     </g>
    </g>
    <g id="xtick_26">
     <g id="line2d_65">
      <path d="M 860.712948 500.7126 L 860.712948 313.306667" clip-path="url(#p9d5c9749b2)" style="fill: none; stroke: #b0b0b0; stroke-opacity: 0.3; stroke-width: 0.8; stroke-linecap: square"/>
     </g>
     <g id="line2d_66">
      <g>
       <path d="M 0 0 L 0 3.5" transform="translate(860.712948 500.7126)" style="stroke: #000000; stroke-width: 0.8"/>
      </g>
     </g>
     <g id="tx039" transform="translate(-0.480 0.000)">
      <text style="font-size: 10px; font-family: 'DejaVu Sans', 'Liberation Sans', sans-serif" transform="translate(841.175587 556.460541) rotate(-45)">07-01 03:00</text>
     </g>
    </g>
    <g id="xtick_27">
     <g id="line2d_67">
      <path d="M 931.630795 500.7126 L 931.630795 313.306667" clip-path="url(#p9d5c9749b2)" style="fill: none; stroke: #b0b0b0; stroke-opacity: 0.3; stroke-width: 0.8; stroke-linecap: square"/>
     </g>
     <g id="line2d_68">
      <g>
       <path d="M 0 0 L 0 3.5" transform="translate(931.630795 500.7126)" style="stroke: #000000; stroke-width: 0.8"/>
      </g>
     </g>
     <g id="tx040" transform="translate(-0.240 0.000)">
      <text style="font-size: 10px; font-family: 'DejaVu Sans', 'Liberation Sans', sans-serif" transform="translate(912.114648 556.418115) rotate(-45)">07-01 09:00</text>
     </g>
    </g>
    <g id="xtick_28">
     <g id="line2d_69">
      <path d="M 1002.548642 500.7126 L 1002.548642 313.306667" clip-path="url(#p9d5c9749b2)" style="fill: none; stroke: #b0b0b0; stroke-opacity: 0.3; stroke-width: 0.8; stroke-linecap: square"/>
     </g>
     <g id="line2d_70">
      <g>
       <path d="M 0 0 L 0 3.5" transform="translate(1002.548642 500.7126)" style="stroke: #000000; stroke-width: 0.8"/>
      </g>
     </g>
     <g id="tx041" transform="translate(-0.480 0.000)">
      <text style="font-size: 10px; font-family: 'DejaVu Sans', 'Liberation Sans', sans-serif" transform="translate(983.021889 556.439328) rotate(-45)">07-01 15:00</text>
     </g>
    </g>
   </g>
   <g id="matplotlib.axis_4">
    <g id="ytick_7">
     <g id="line2d_71">
      <path d="M 60.08 486.984746 L 1031.95 486.984746" clip-path="url(#p9d5c9749b2)" style="fill: none; stroke: #b0b0b0; stroke-opacity: 0.3; stroke-width: 0.8; stroke-linecap: square"/>
     </g>
     <g id="line2d_72">
      <g>
       <path d="M 0 0 L -3.5 0" transform="translate(60.08 486.984746)" style="stroke: #000000; stroke-width: 0.8"/>
      </g>
     </g>
     <g id="tx044" transform="translate(0.000 -0.360)">
      <text style="font-size: 10px; font-family: 'DejaVu Sans', 'Liberation Sans', sans-serif; text-anchor: end" x="53.08" y="490.944746" transform="rotate(-0 53.08 490.944746)">9800</text>
     </g>
    </g>
    <g id="ytick_8">
     <g id="line2d_73">
      <path d="M 60.08 466.038983 L 1031.95 466.038983" clip-path="url(#p9d5c9749b2)" style="fill: none; stroke: #b0b0b0; stroke-opacity: 0.3; stroke-width: 0.8; stroke-linecap: square"/>
     </g>
     <g id="line2d_74">
      <g>
       <path d="M 0 0 L -3.5 0" transform="translate(60.08 466.038983)" style="stroke: #000000; stroke-width: 0.8"/>
      </g>
     </g>
     <g id="tx045" transform="translate(0.000 -0.120)">
      <text style="font-size: 10px; font-family: 'DejaVu Sans', 'Liberation Sans', sans-serif; text-anchor: end" x="53.08" y="469.998983" transform="rotate(-0 53.08 469.998983)">9850</text>
     </g>
    </g>
    <g id="ytick_9">
     <g id="line2d_75">
      <path d="M 60.08 445.09322 L 1031.95 445.09322" clip-path="url(#p9d5c9749b2)" style="fill: none; stroke: #b0b0b0; stroke-opacity: 0.3; stroke-width: 0.8; stroke-linecap: square"/>
     </g>
     <g id="line2d_76">
      <g>
       <path d="M 0 0 L -3.5 0" transform="translate(60.08 445.09322)" style="stroke: #000000; stroke-width: 0.8"/>
      </g>
     </g>
     <g id="tx046" transform="translate(0.000 -0.120)">
      <text style="font-size: 10px; font-family: 'DejaVu Sans', 'Liberation Sans', sans-serif; text-anchor: end" x="53.08" y="449.05322" transform="rotate(-0 53.08 449.05322)">9900</text>
     </g>
    </g>
    <g id="ytick_10">
     <g id="line2d_77">
      <path d="M 60.08 424.147457 L 1031.95 424.147457" clip-path="url(#p9d5c9749b2)" style="fill: none; stroke: #b0b0b0; stroke-opacity: 0.3; stroke-width: 0.8; stroke-linecap: square"/>
     </g>
     <g id="line2d_78">
      <g>
       <path d="M 0 0 L -3.5 0" transform="translate(60.08 424.147457)" style="stroke: #000000; stroke-width: 0.8"/>
      </g>
     </g>
     <g id="tx047" transform="translate(0.000 -0.360)">
      <text style="font-size: 10px; font-family: 'DejaVu Sans', 'Liberation Sans', sans-serif; text-anchor: end" x="53.08" y="428.107457" transform="rotate(-0 53.08 428.107457)">9950</text>
     </g>
    </g>
    <g id="ytick_11">
     <g id="line2d_79">
      <path d="M 60.08 403.201693 L 1031.95 403.201693" clip-path="url(#p9d5c9749b2)" style="fill: none; stroke: #b0b0b0; stroke-opacity: 0.3; stroke-width: 0.8; stroke-linecap: square"/>
     </g>
     <g id="line2d_80">
      <g>
       <path d="M 0 0 L -3.5 0" transform="translate(60.08 403.201693)" style="stroke: #000000; stroke-width: 0.8"/>
      </g>
     </g>
     <g id="tx048" transform="translate(-0.120 -0.360)">
      <text style="font-size: 10px; font-family: 'DejaVu Sans', 'Liberation Sans', sans-serif; text-anchor: end" x="53.08" y="407.161693" transform="rotate(-0 53.08 407.161693)">10000</text>
     </g>
    </g>
    <g id="ytick_12">
     <g id="line2d_81">
      <path d="M 60.08 382.25593 L 1031.95 382.25593" clip-path="url(#p9d5c9749b2)" style="fill: none; stroke: #b0b0b0; stroke-opacity: 0.3; stroke-width: 0.8; stroke-linecap: square"/>
     </g>
     <g id="line2d_82">
      <g>
       <path d="M 0 0 L -3.5 0" transform="translate(60.08 382.25593)" style="stroke: #000000; stroke-width: 0.8"/>
      </g>
     </g>
     <g id="tx049" transform="translate(-0.120 -0.120)">
      <text style="font-size: 10px; font-family: 'DejaVu Sans', 'Liberation Sans', sans-serif; text-anchor: end" x="53.08" y="386.21593" transform="rotate(-0 53.08 386.21593)">10050</text>
     </g>
    </g>
    <g id="ytick_13">
     <g id="line2d_83">
      <path d="M 60.08 361.310167 L 1031.95 361.310167" clip-path="url(#p9d5c9749b2)" style="fill: none; stroke: #b0b0b0; stroke-opacity: 0.3; stroke-width: 0.8; stroke-linecap: square"/>
     </g>
     <g id="line2d_84">
      <g>
       <path d="M 0 0 L -3.5 0" transform="translate(60.08 361.310167)" style="stroke: #000000; stroke-width: 0.8"/>
      </g>
     </g>
     <g id="tx050" transform="translate(-0.120 -0.360)">
      <text style="font-size: 10px; font-family: 'DejaVu Sans', 'Liberation Sans', sans-serif; text-anchor: end" x="53.08" y="365.270167" transform="rotate(-0 53.08 365.270167)">10100</text>
     </g>
    </g>
    <g id="ytick_14">
     <g id="line2d_85">
      <path d="M 60.08 340.364404 L 1031.95 340.364404" clip-path="url(#p9d5c9749b2)" style="fill: none; stroke: #b0b0b0; stroke-opacity: 0.3; stroke-width: 0.8; stroke-linecap: square"/>
     </g>
     <g id="line2d_86">
      <g>
       <path d="M 0 0 L -3.5 0" transform="translate(60.08 340.364404)" style="stroke: #000000; stroke-width: 0.8"/>
      </g>
     </g>
     <g id="tx051" transform="translate(-0.120 -0.360)">
      <text style="font-size: 10px; font-family: 'DejaVu Sans', 'Liberation Sans', sans-serif; text-anchor: end" x="53.08" y="344.324404" transform="rotate(-0 53.08 344.324404)">10150</text>
     </g>
    </g>
    <g id="ytick_15">
     <g id="line2d_87">
      <path d="M 60.08 319.41864 L 1031.95 319.41864" clip-path="url(#p9d5c9749b2)" style="fill: none; stroke: #b0b0b0; stroke-opacity: 0.3; stroke-width: 0.8; stroke-linecap: square"/>
     </g>
     <g id="line2d_88">
      <g>
       <path d="M 0 0 L -3.5 0" transform="translate(60.08 319.41864)" style="stroke: #000000; stroke-width: 0.8"/>
      </g>
     </g>
     <g id="tx052" transform="translate(-0.120 -0.120)">
      <text style="font-size: 10px; font-family: 'DejaVu Sans', 'Liberation Sans', sans-serif; text-anchor: end" x="53.08" y="323.37864" transform="rotate(-0 53.08 323.37864)">10200</text>
     </g>
    </g>
    <g id="tx042" transform="translate(-0.120 0.120)">
     <text style="font-size: 10px; font-family: 'DejaVu Sans', 'Liberation Sans', sans-serif; text-anchor: middle" x="15.12" y="407.009633" transform="rotate(-90 15.12 407.009633)">Portfolio Value ($)</text>
    </g>
   </g>
   <g id="line2d_89">
    <path d="M 104.255909 403.201693 L 254.956335 403.201693 L 257.911245 405.421944 L 260.866155 418.408318 L 272.685797 418.408318 L 275.640707 421.047484 L 334.738913 421.047484 L 337.693823 438.725708 L 396.792029 438.725708 L 399.74694 441.322983 L 420.431312 441.322983 L 423.386222 449.868854 L 506.123711 449.868854 L 509.078621 452.549912 L 514.988442 452.549912 L 517.943352 492.179296 L 520.898262 410.867843 L 704.102701 410.867843 L 707.057612 413.129985 L 710.012522 433.363592 L 721.832163 433.363592 L 724.787074 435.416277 L 766.155818 435.416277 L 769.110728 321.764566 L 984.819181 321.764566 L 987.774091 324.236166 L 987.774091 324.236166" clip-path="url(#p9d5c9749b2)" style="fill: none; stroke: #0000ff; stroke-width: 2; stroke-linecap: square"/>
   </g>
   <g id="line2d_90">
    <path d="M 60.08 403.201693 L 1031.95 403.201693" clip-path="url(#p9d5c9749b2)" style="fill: none; stroke-dasharray: 5.55,2.4; stroke-dashoffset: 0; stroke: #808080; stroke-opacity: 0.7; stroke-width: 1.5"/>
   </g>
   <g id="patch_9">
    <path d="M 60.08 500.7126 L 60.08 313.306667" style="fill: none; stroke: #000000; stroke-width: 0.8; stroke-linejoin: miter; stroke-linecap: square"/>
   </g>
   <g id="patch_10">
    <path d="M 1031.95 500.7126 L 1031.95 313.306667" style="fill: none; stroke: #000000; stroke-width: 0.8; stroke-linejoin: miter; stroke-linecap: square"/>
   </g>
   <g id="patch_11">
    <path d="M 60.08 500.7126 L 1031.95 500.7126" style="fill: none; stroke: #000000; stroke-width: 0.8; stroke-linejoin: miter; stroke-linecap: square"/>
   </g>
   <g id="patch_12">
    <path d="M 60.08 313.306667 L 1031.95 313.306667" style="fill: none; stroke: #000000; stroke-width: 0.8; stroke-linejoin: miter; stroke-linecap: square"/>
   </g>
   <g id="tx054" transform="translate(0.000 0.000)">
    <text style="font-size: 12px; font-family: 'DejaVu Sans', 'Liberation Sans', sans-serif; text-anchor: middle" x="546.015" y="307.306667" transform="rotate(-0 546.015 307.306667)">Equity Curve (Return: 1.82%)</text>
   </g>
   <g id="legend_2">
    <g id="patch_13">
     <path d="M 67.08 351.466667 L 170.72 351.466667 Q 172.72 351.466667 172.72 349.466667 L 172.72 320.306667 Q 172.72 318.306667 170.72 318.306667 L 67.08 318.306667 Q 65.08 318.306667 65.08 320.306667 L 65.08 349.466667 Q 65.08 351.466667 67.08 351.466667 z" style="fill: #ffffff; opacity: 0.8; stroke: #cccccc; stroke-linejoin: miter"/>
    </g>
    <g id="line2d_91">
     <path d="M 69.08 326.726667 L 79.08 326.726667 L 89.08 326.726667" style="fill: none; stroke: #0000ff; stroke-width: 2; stroke-linecap: square"/>
    </g>
    <g id="tx055" transform="translate(0.000 -0.240)">
     <text style="font-size: 10px; font-family: 'DejaVu Sans', 'Liberation Sans', sans-serif; text-anchor: start" x="97.08" y="330.226667" transform="rotate(-0 97.08 330.226667)">Portfolio Value</text>
    </g>
    <g id="line2d_92">
     <path d="M 69.08 341.806667 L 79.08 341.806667 L 89.08 341.806667" style="fill: none; stroke-dasharray: 5.55,2.4; stroke-dashoffset: 0; stroke: #808080; stroke-opacity: 0.7; stroke-width: 1.5"/>
    </g>
    <g id="tx056" transform="translate(0.120 -0.240)">
     <text style="font-size: 10px; font-family: 'DejaVu Sans', 'Liberation Sans', sans-serif; text-anchor: start" x="97.08" y="345.306667" transform="rotate(-0 97.08 345.306667)">Initial Capital</text>
    </g>
   </g>
  </g>
  <g id="axes_3">
   <g id="patch_14">
    <path d="M 60.08 772.019266 L 1031.95 772.019266 L 1031.95 584.613333 L 60.08 584.613333 z" style="fill: #ffffff"/>
   </g>
   <g id="matplotlib.axis_5">
    <g id="xtick_29">
     <g id="line2d_93">
      <path d="M 80.616627 772.019266 L 80.616627 584.613333" clip-path="url(#pef9d2f7bd6)" style="fill: none; stroke: #b0b0b0; stroke-opacity: 0.3; stroke-width: 0.8; stroke-linecap: square"/>
     </g>
     <g id="line2d_94">
      <g>
       <path d="M 0 0 L 0 3.5" transform="translate(80.616627 772.019266)" style="stroke: #000000; stroke-width: 0.8"/>
      </g>
     </g>
     <g id="tx058" transform="translate(-0.360 -0.120)">
      <text style="font-size: 10px; font-family: 'DejaVu Sans', 'Liberation Sans', sans-serif" transform="translate(61.089873 827.745995) rotate(-45)">06-28 09:00</text>
     </g>
    </g>
    <g id="xtick_30">
     <g id="line2d_95">
      <path d="M 151.534474 772.019266 L 151.534474 584.613333" clip-path="url(#pef9d2f7bd6)" style="fill: none; stroke: #b0b0b0; stroke-opacity: 0.3; stroke-width: 0.8; stroke-linecap: square"/>
     </g>
     <g id="line2d_96">
      <g>
       <path d="M 0 0 L 0 3.5" transform="translate(151.534474 772.019266)" style="stroke: #000000; stroke-width: 0.8"/>
      </g>
     </g>
     <g id="tx059" transform="translate(-0.480 -0.120)">
      <text style="font-size: 10px; font-family: 'DejaVu Sans', 'Liberation Sans', sans-serif" transform="translate(131.997114 827.767208) rotate(-45)">06-28 15:00</text>
     </g>
    </g>
    <g id="xtick_31">
     <g id="line2d_97">
      <path d="M 222.452321 772.019266 L 222.452321 584.613333" clip-path="url(#pef9d2f7bd6)" style="fill: none; stroke: #b0b0b0; stroke-opacity: 0.3; stroke-width: 0.8; stroke-linecap: square"/>
     </g>
     <g id="line2d_98">
      <g>
       <path d="M 0 0 L 0 3.5" transform="translate(222.452321 772.019266)" style="stroke: #000000; stroke-width: 0.8"/>
      </g>
     </g>
     <g id="tx060" transform="translate(-0.240 -0.120)">
      <text style="font-size: 10px; font-family: 'DejaVu Sans', 'Liberation Sans', sans-serif" transform="translate(202.925568 827.745995) rotate(-45)">06-28 21:00</text>
     </g>
    </g>
    <g id="xtick_32">
     <g id="line2d_99">
      <path d="M 293.370169 772.019266 L 293.370169 584.613333" clip-path="url(#pef9d2f7bd6)" style="fill: none; stroke: #b0b0b0; stroke-opacity: 0.3; stroke-width: 0.8; stroke-linecap: square"/>
     </g>
     <g id="line2d_100">
      <g>
       <path d="M 0 0 L 0 3.5" transform="translate(293.370169 772.019266)" style="stroke: #000000; stroke-width: 0.8"/>
      </g>
     </g>
     <g id="tx061" transform="translate(-0.480 -0.120)">
      <text style="font-size: 10px; font-family: 'DejaVu Sans', 'Liberation Sans', sans-serif" transform="translate(273.843415 827.745995) rotate(-45)">06-29 03:00</text>
     </g>
    </g>
    <g id="xtick_33">
     <g id="line2d_101">
      <path d="M 364.288016 772.019266 L 364.288016 584.613333" clip-path="url(#pef9d2f7bd6)" style="fill: none; stroke: #b0b0b0; stroke-opacity: 0.3; stroke-width: 0.8; stroke-linecap: square"/>
     </g>
     <g id="line2d_102">
      <g>
       <path d="M 0 0 L 0 3.5" transform="translate(364.288016 772.019266)" style="stroke: #000000; stroke-width: 0.8"/>
      </g>
     </g>
     <g id="tx062" transform="translate(-0.360 -0.120)">
      <text style="font-size: 10px; font-family: 'DejaVu Sans', 'Liberation Sans', sans-serif" transform="translate(344.782476 827.703568) rotate(-45)">06-29 09:00</text>
     </g>
    </g>
    <g id="xtick_34">
     <g id="line2d_103">
      <path d="M 435.205863 772.019266 L 435.205863 584.613333" clip-path="url(#pef9d2f7bd6)" style="fill: none; stroke: #b0b0b0; stroke-opacity: 0.3; stroke-width: 0.8; stroke-linecap: square"/>
     </g>
     <g id="line2d_104">
      <g>
       <path d="M 0 0 L 0 3.5" transform="translate(435.205863 772.019266)" style="stroke: #000000; stroke-width: 0.8"/>
      </g>
     </g>
     <g id="tx063" transform="translate(-0.480 -0.120)">
      <text style="font-size: 10px; font-family: 'DejaVu Sans', 'Liberation Sans', sans-serif" transform="translate(415.689716 827.724781) rotate(-45)">06-29 15:00</text>
     </g>
    </g>
    <g id="xtick_35">
     <g id="line2d_105">
      <path d="M 506.123711 772.019266 L 506.123711 584.613333" clip-path="url(#pef9d2f7bd6)" style="fill: none; stroke: #b0b0b0; stroke-opacity: 0.3; stroke-width: 0.8; stroke-linecap: square"/>
     </g>
     <g id="line2d_106">
      <g>
       <path d="M 0 0 L 0 3.5" transform="translate(506.123711 772.019266)" style="stroke: #000000; stroke-width: 0.8"/>
      </g>
     </g>
     <g id="tx064" transform="translate(-0.360 -0.120)">
      <text style="font-size: 10px; font-family: 'DejaVu Sans', 'Liberation Sans', sans-serif" transform="translate(486.61817 827.703568) rotate(-45)">06-29 21:00</text>
     </g>
    </g>
    <g id="xtick_36">
     <g id="line2d_107">
      <path d="M 577.041558 772.019266 L 577.041558 584.613333" clip-path="url(#pef9d2f7bd6)" style="fill: none; stroke: #b0b0b0; stroke-opacity: 0.3; stroke-width: 0.8; stroke-linecap: square"/>
     </g>
     <g id="line2d_108">
      <g>
       <path d="M 0 0 L 0 3.5" transform="translate(577.041558 772.019266)" style="stroke: #000000; stroke-width: 0.8"/>
      </g>
     </g>
     <g id="tx065" transform="translate(-0.360 0.120)">
      <text style="font-size: 10px; font-family: 'DejaVu Sans', 'Liberation Sans', sans-serif" transform="translate(557.482985 827.809634) rotate(-45)">06-30 03:00</text>
     </g>
    </g>
    <g id="xtick_37">
     <g id="line2d_109">
      <path d="M 647.959406 772.019266 L 647.959406 584.613333" clip-path="url(#pef9d2f7bd6)" style="fill: none; stroke: #b0b0b0; stroke-opacity: 0.3; stroke-width: 0.8; stroke-linecap: square"/>
     </g>
     <g id="line2d_110">
      <g>
       <path d="M 0 0 L 0 3.5" transform="translate(647.959406 772.019266)" style="stroke: #000000; stroke-width: 0.8"/>
      </g>
     </g>
     <g id="tx066" transform="translate(-0.240 -0.120)">
      <text style="font-size: 10px; font-family: 'DejaVu Sans', 'Liberation Sans', sans-serif" transform="translate(628.422045 827.767208) rotate(-45)">06-30 09:00</text>
     </g>
    </g>
    <g id="xtick_38">
     <g id="line2d_111">
      <path d="M 718.877253 772.019266 L 718.877253 584.613333" clip-path="url(#pef9d2f7bd6)" style="fill: none; stroke: #b0b0b0; stroke-opacity: 0.3; stroke-width: 0.8; stroke-linecap: square"/>
     </g>
     <g id="line2d_112">
      <g>
       <path d="M 0 0 L 0 3.5" transform="translate(718.877253 772.019266)" style="stroke: #000000; stroke-width: 0.8"/>
      </g>
     </g>
     <g id="tx067" transform="translate(-0.360 -0.120)">
      <text style="font-size: 10px; font-family: 'DejaVu Sans', 'Liberation Sans', sans-serif" transform="translate(699.329286 827.788421) rotate(-45)">06-30 15:00</text>
     </g>
    </g>
    <g id="xtick_39">
     <g id="line2d_113">
      <path d="M 789.7951 772.019266 L 789.7951 584.613333" clip-path="url(#pef9d2f7bd6)" style="fill: none; stroke: #b0b0b0; stroke-opacity: 0.3; stroke-width: 0.8; stroke-linecap: square"/>
     </g>
     <g id="line2d_114">
      <g>
       <path d="M 0 0 L 0 3.5" transform="translate(789.7951 772.019266)" style="stroke: #000000; stroke-width: 0.8"/>
      </g>
     </g>
     <g id="tx068" transform="translate(-0.240 -0.120)">
      <text style="font-size: 10px; font-family: 'DejaVu Sans', 'Liberation Sans', sans-serif" transform="translate(770.25774 827.767208) rotate(-45)">06-30 21:00</text>
     </g>
    </g>
    <g id="xtick_40">
     <g id="line2d_115">
      <path d="M 860.712948 772.019266 L 860.712948 584.613333" clip-path="url(#pef9d2f7bd6)" style="fill: none; stroke: #b0b0b0; stroke-opacity: 0.3; stroke-width: 0.8; stroke-linecap: square"/>
     </g>
     <g id="line2d_116">
      <g>
       <path d="M 0 0 L 0 3.5" transform="translate(860.712948 772.019266)" style="stroke: #000000; stroke-width: 0.8"/>
      </g>
     </g>
     <g id="tx069" transform="translate(-0.480 -0.120)">
      <text style="font-size: 10px; font-family: 'DejaVu Sans', 'Liberation Sans', sans-serif" transform="translate(841.175587 827.767208) rotate(-45)">07-01 03:00</text>
     </g>
    </g>
    <g id="xtick_41">
     <g id="line2d_117">
      <path d="M 931.630795 772.019266 L 931.630795 584.613333" clip-path="url(#pef9d2f7bd6)" style="fill: none; stroke: #b0b0b0; stroke-opacity: 0.3; stroke-width: 0.8; stroke-linecap: square"/>
     </g>
     <g id="line2d_118">
      <g>
       <path d="M 0 0 L 0 3.5" transform="translate(931.630795 772.019266)" style="stroke: #000000; stroke-width: 0.8"/>
      </g>
     </g>
     <g id="tx070" transform="translate(-0.240 -0.120)">
      <text style="font-size: 10px; font-family: 'DejaVu Sans', 'Liberation Sans', sans-serif" transform="translate(912.114648 827.724781) rotate(-45)">07-01 09:00</text>
     </g>
    </g>
    <g id="xtick_42">
     <g id="line2d_119">
      <path d="M 1002.548642 772.019266 L 1002.548642 584.613333" clip-path="url(#pef9d2f7bd6)" style="fill: none; stroke: #b0b0b0; stroke-opacity: 0.3; stroke-width: 0.8; stroke-linecap: square"/>
     </g>
     <g id="line2d_120">
      <g>
       <path d="M 0 0 L 0 3.5" transform="translate(1002.548642 772.019266)" style="stroke: #000000; stroke-width: 0.8"/>
      </g>
     </g>
     <g id="tx071" transform="translate(-0.480 -0.120)">
      <text style="font-size: 10px; font-family: 'DejaVu Sans', 'Liberation Sans', sans-serif" transform="translate(983.021889 827.745995) rotate(-45)">07-01 15:00</text>
     </g>
    </g>
    <g id="tx057" transform="translate(0.120 0.000)">
     <text style="font-size: 10px; font-family: 'DejaVu Sans', 'Liberation Sans', sans-serif; text-anchor: middle" x="546.015" y="841.256985" transform="rotate(-0 546.015 841.256985)">Time</text>
    </g>
   </g>
   <g id="matplotlib.axis_6">
    <g id="ytick_16">
     <g id="line2d_121">
      <path d="M 60.08 763.778374 L 1031.95 763.778374" clip-path="url(#pef9d2f7bd6)" style="fill: none; stroke: #b0b0b0; stroke-opacity: 0.3; stroke-width: 0.8; stroke-linecap: square"/>
     </g>
     <g id="line2d_122">
      <g>
       <path d="M 0 0 L -3.5 0" transform="translate(60.08 763.778374)" style="stroke: #000000; stroke-width: 0.8"/>
      </g>
     </g>
     <g id="tx074" transform="translate(0.120 -0.360)">
      <text style="font-size: 10px; font-family: 'DejaVu Sans', 'Liberation Sans', sans-serif; text-anchor: end" x="53.08" y="767.738374" transform="rotate(-0 53.08 767.738374)">0</text>
     </g>
    </g>
    <g id="ytick_17">
     <g id="line2d_123">
      <path d="M 60.08 728.785202 L 1031.95 728.785202" clip-path="url(#pef9d2f7bd6)" style="fill: none; stroke: #b0b0b0; stroke-opacity: 0.3; stroke-width: 0.8; stroke-linecap: square"/>
     </g>
     <g id="line2d_124">
      <g>
       <path d="M 0 0 L -3.5 0" transform="translate(60.08 728.785202)" style="stroke: #000000; stroke-width: 0.8"/>
      </g>
     </g>
     <g id="tx075" transform="translate(-0.120 -0.120)">
      <text style="font-size: 10px; font-family: 'DejaVu Sans', 'Liberation Sans', sans-serif; text-anchor: end" x="53.08" y="732.745202" transform="rotate(-0 53.08 732.745202)">20</text>
     </g>
    </g>
    <g id="ytick_18">
     <g id="line2d_125">
      <path d="M 60.08 693.79203 L 1031.95 693.79203" clip-path="url(#pef9d2f7bd6)" style="fill: none; stroke: #b0b0b0; stroke-opacity: 0.3; stroke-width: 0.8; stroke-linecap: square"/>
     </g>
     <g id="line2d_126">
      <g>
       <path d="M 0 0 L -3.5 0" transform="translate(60.08 693.79203)" style="stroke: #000000; stroke-width: 0.8"/>
      </g>
     </g>
     <g id="tx076" transform="translate(-0.240 -0.120)">
      <text style="font-size: 10px; font-family: 'DejaVu Sans', 'Liberation Sans', sans-serif; text-anchor: end" x="53.08" y="697.75203" transform="rotate(-0 53.08 697.75203)">40</text>
     </g>
    </g>
    <g id="ytick_19">
     <g id="line2d_127">
      <path d="M 60.08 658.798858 L 1031.95 658.798858" clip-path="url(#pef9d2f7bd6)" style="fill: none; stroke: #b0b0b0; stroke-opacity: 0.3; stroke-width: 0.8; stroke-linecap: square"/>
     </g>
     <g id="line2d_128">
      <g>
       <path d="M 0 0 L -3.5 0" transform="translate(60.08 658.798858)" style="stroke: #000000; stroke-width: 0.8"/>
      </g>
     </g>
     <g id="tx077" transform="translate(0.000 -0.120)">
      <text style="font-size: 10px; font-family: 'DejaVu Sans', 'Liberation Sans', sans-serif; text-anchor: end" x="53.08" y="662.758858" transform="rotate(-0 53.08 662.758858)">60</text>
     </g>
    </g>
    <g id="ytick_20">
     <g id="line2d_129">
      <path d="M 60.08 623.805686 L 1031.95 623.805686" clip-path="url(#pef9d2f7bd6)" style="fill: none; stroke: #b0b0b0; stroke-opacity: 0.3; stroke-width: 0.8; stroke-linecap: square"/>
     </g>
     <g id="line2d_130">
      <g>
       <path d="M 0 0 L -3.5 0" transform="translate(60.08 623.805686)" style="stroke: #000000; stroke-width: 0.8"/>
      </g>
     </g>
     <g id="tx078" transform="translate(0.000 -0.360)">
      <text style="font-size: 10px; font-family: 'DejaVu Sans', 'Liberation Sans', sans-serif; text-anchor: end" x="53.08" y="627.765686" transform="rotate(-0 53.08 627.765686)">80</text>
     </g>
    </g>
    <g id="ytick_21">
     <g id="line2d_131">
      <path d="M 60.08 588.812514 L 1031.95 588.812514" clip-path="url(#pef9d2f7bd6)" style="fill: none; stroke: #b0b0b0; stroke-opacity: 0.3; stroke-width: 0.8; stroke-linecap: square"/>
     </g>
     <g id="line2d_132">
      <g>
       <path d="M 0 0 L -3.5 0" transform="translate(60.08 588.812514)" style="stroke: #000000; stroke-width: 0.8"/>
      </g>
     </g>
     <g id="tx079" transform="translate(-0.120 -0.360)">
      <text style="font-size: 10px; font-family: 'DejaVu Sans', 'Liberation Sans', sans-serif; text-anchor: end" x="53.08" y="592.772514" transform="rotate(-0 53.08 592.772514)">100</text>
     </g>
    </g>
    <g id="tx072" transform="translate(-0.600 0.240)">
     <text style="font-size: 10px; font-family: 'DejaVu Sans', 'Liberation Sans', sans-serif; text-anchor: middle" x="27.84" y="678.3163" transform="rotate(-90 27.84 678.3163)">Confidence (%)</text>
    </g>
   </g>
   <g id="line2d_133">
    <path d="M 104.255909 763.778374 L 249.046514 763.778374 L 252.001424 632.34531 L 254.956335 632.34531 L 257.911245 601.81977 L 260.866155 612.066105 L 263.821066 632.34531 L 266.775976 607.476601 L 269.730886 632.34531 L 272.685797 632.34531 L 275.640707 635.333824 L 278.595617 634.479963 L 281.550528 638.429071 L 284.505438 667.246888 L 287.460348 632.34531 L 296.325079 632.34531 L 299.279989 658.49481 L 302.2349 658.49481 L 305.18981 632.34531 L 322.919272 632.34531 L 325.874182 627.222142 L 328.829092 638.962734 L 331.784003 658.49481 L 337.693823 658.49481 L 340.648734 638.429071 L 343.603644 638.429071 L 346.558554 627.008677 L 349.513465 666.179562 L 352.468375 638.429071 L 355.423285 667.246888 L 358.378196 661.163127 L 361.333106 638.429071 L 364.288016 642.164714 L 367.242926 638.429071 L 370.197837 661.163127 L 373.152747 638.429071 L 376.107657 638.429071 L 379.062568 667.246888 L 382.017478 632.34531 L 384.972388 635.227091 L 387.927299 632.34531 L 390.882209 658.49481 L 393.837119 658.49481 L 396.792029 638.429071 L 399.74694 602.460166 L 402.70185 632.34531 L 417.476402 632.34531 L 420.431312 658.49481 L 423.386222 632.34531 L 426.341133 658.49481 L 429.296043 627.008677 L 432.250953 658.49481 L 435.205863 658.49481 L 438.160774 667.246888 L 441.115684 632.34531 L 444.070594 627.222142 L 447.025505 658.49481 L 449.980415 646.647486 L 452.935325 667.246888 L 455.890236 632.34531 L 461.800056 632.34531 L 464.754967 640.883922 L 467.709877 632.34531 L 497.25898 632.34531 L 500.21389 658.49481 L 503.168801 658.49481 L 506.123711 629.783726 L 509.078621 592.854227 L 512.033531 607.476601 L 514.988442 632.34531 L 517.943352 627.222142 L 520.898262 638.429071 L 526.808083 638.429071 L 529.762993 661.163127 L 532.717904 661.163127 L 535.672814 667.246888 L 538.627724 667.246888 L 541.582635 684.644311 L 550.447365 684.644311 L 553.402276 658.49481 L 559.312096 658.49481 L 562.267007 642.698377 L 565.221917 632.34531 L 577.041558 632.34531 L 579.996469 658.49481 L 582.951379 632.34531 L 591.81611 632.34531 L 594.77102 658.49481 L 597.72593 658.49481 L 600.680841 632.34531 L 615.455392 632.34531 L 618.410303 627.008677 L 621.365213 638.429071 L 624.320123 638.429071 L 627.275033 627.008677 L 630.229944 658.49481 L 633.184854 632.34531 L 639.094675 632.34531 L 642.049585 667.246888 L 645.004495 658.49481 L 647.959406 632.34531 L 650.914316 632.34531 L 653.869226 640.563724 L 656.824137 638.429071 L 659.779047 643.765704 L 662.733957 658.49481 L 665.688867 632.34531 L 695.237971 632.34531 L 698.192881 638.429071 L 701.147791 592.854227 L 704.102701 632.34531 L 707.057612 592.854227 L 710.012522 592.854227 L 712.967432 632.34531 L 715.922343 627.008677 L 718.877253 627.008677 L 721.832163 592.854227 L 724.787074 592.854227 L 730.696894 658.49481 L 733.651805 632.34531 L 736.606715 632.34531 L 739.561625 658.49481 L 751.381266 658.49481 L 754.336177 632.34531 L 757.291087 667.246888 L 760.245997 632.34531 L 763.200908 632.34531 L 766.155818 658.49481 L 769.110728 630.210657 L 775.020549 684.644311 L 777.975459 667.246888 L 780.930369 667.246888 L 783.88528 632.34531 L 813.434383 632.34531 L 816.389293 640.883922 L 819.344203 640.883922 L 822.299114 667.246888 L 825.254024 632.34531 L 828.208934 658.49481 L 831.163845 598.19086 L 834.118755 632.34531 L 854.803127 632.34531 L 857.758037 627.222142 L 860.712948 638.962734 L 863.667858 632.34531 L 866.622768 658.49481 L 869.577679 632.34531 L 872.532589 658.49481 L 875.487499 635.97422 L 878.44241 667.246888 L 881.39732 638.429071 L 887.30714 638.429071 L 890.262051 661.163127 L 893.216961 646.220555 L 896.171871 667.246888 L 899.126782 667.246888 L 902.081692 640.883922 L 907.991513 640.883922 L 910.946423 604.594819 L 913.901333 604.594819 L 916.856244 632.34531 L 934.585705 632.34531 L 937.540616 658.49481 L 940.495526 632.34531 L 943.450436 632.34531 L 946.405347 658.49481 L 949.360257 658.49481 L 952.315167 632.34531 L 955.270078 658.49481 L 961.179898 658.49481 L 964.134808 637.361745 L 967.089719 658.49481 L 970.044629 627.008677 L 972.999539 654.43897 L 975.95445 638.429071 L 978.90936 638.429071 L 981.86427 632.34531 L 984.819181 638.429071 L 987.774091 604.594819 L 987.774091 604.594819" clip-path="url(#pef9d2f7bd6)" style="fill: none; stroke: #800080; stroke-opacity: 0.7; stroke-width: 1.5; stroke-linecap: square"/>
   </g>
   <g id="line2d_134">
    <path d="M 60.08 606.3091 L 1031.95 606.3091" clip-path="url(#pef9d2f7bd6)" style="fill: none; stroke-dasharray: 5.55,2.4; stroke-dashoffset: 0; stroke: #800080; stroke-opacity: 0.5; stroke-width: 1.5"/>
   </g>
   <g id="patch_15">
    <path d="M 60.08 772.019266 L 60.08 584.613333" style="fill: none; stroke: #000000; stroke-width: 0.8; stroke-linejoin: miter; stroke-linecap: square"/>
   </g>
   <g id="patch_16">
    <path d="M 1031.95 772.019266 L 1031.95 584.613333" style="fill: none; stroke: #000000; stroke-width: 0.8; stroke-linejoin: miter; stroke-linecap: square"/>
   </g>
   <g id="patch_17">
    <path d="M 60.08 772.019266 L 1031.95 772.019266" style="fill: none; stroke: #000000; stroke-width: 0.8; stroke-linejoin: miter; stroke-linecap: square"/>
   </g>
   <g id="patch_18">
    <path d="M 60.08 584.613333 L 1031.95 584.613333" style="fill: none; stroke: #000000; stroke-width: 0.8; stroke-linejoin: miter; stroke-linecap: square"/>
   </g>
   <g id="tx081" transform="translate(-0.120 0.000)">
    <text style="font-size: 12px; font-family: 'DejaVu Sans', 'Liberation Sans', sans-serif; text-anchor: middle" x="546.015" y="578.613333" transform="rotate(-0 546.015 578.613333)">Technical Indicators</text>
   </g>
   <g id="legend_3">
    <g id="patch_19">
     <path d="M 67.08 607.693333 L 189.08 607.693333 Q 191.08 607.693333 191.08 605.693333 L 191.08 591.613333 Q 191.08 589.613333 189.08 589.613333 L 67.08 589.613333 Q 65.08 589.613333 65.08 591.613333 L 65.08 605.693333 Q 65.08 607.693333 67.08 607.693333 z" style="fill: #ffffff; opacity: 0.8; stroke: #cccccc; stroke-linejoin: miter"/>
    </g>
    <g id="line2d_135">
     <path d="M 69.08 598.033333 L 79.08 598.033333 L 89.08 598.033333" style="fill: none; stroke: #800080; stroke-opacity: 0.7; stroke-width: 1.5; stroke-linecap: square"/>
    </g>
    <g id="tx082" transform="translate(0.120 -0.240)">
     <text style="font-size: 10px; font-family: 'DejaVu Sans', 'Liberation Sans', sans-serif; text-anchor: start" x="97.08" y="601.533333" transform="rotate(-0 97.08 601.533333)">Signal Confidence</text>
    </g>
   </g>
  </g>
  <g id="axes_4">
   <g id="matplotlib.axis_7">
    <g id="ytick_22">
     <g id="line2d_136">
      <g>
       <path d="M 0 0 L 3.5 0" transform="translate(1031.95 759.341596)" style="stroke: #000000; stroke-width: 0.8"/>
      </g>
     </g>
     <g id="tx085" transform="translate(0.000 -0.120)">
      <text style="font-size: 10px; font-family: 'DejaVu Sans', 'Liberation Sans', sans-serif; text-anchor: start" x="1038.95" y="763.301596" transform="rotate(-0 1038.95 763.301596)">20</text>
     </g>
    </g>
    <g id="ytick_23">
     <g id="line2d_137">
      <g>
       <path d="M 0 0 L 3.5 0" transform="translate(1031.95 735.556099)" style="stroke: #000000; stroke-width: 0.8"/>
      </g>
     </g>
     <g id="tx086" transform="translate(-0.120 -0.120)">
      <text style="font-size: 10px; font-family: 'DejaVu Sans', 'Liberation Sans', sans-serif; text-anchor: start" x="1038.95" y="739.516099" transform="rotate(-0 1038.95 739.516099)">30</text>
     </g>
    </g>
    <g id="ytick_24">
     <g id="line2d_138">
      <g>
       <path d="M 0 0 L 3.5 0" transform="translate(1031.95 711.770602)" style="stroke: #000000; stroke-width: 0.8"/>
      </g>
     </g>
     <g id="tx087" transform="translate(-0.120 -0.120)">
      <text style="font-size: 10px; font-family: 'DejaVu Sans', 'Liberation Sans', sans-serif; text-anchor: start" x="1038.95" y="715.730602" transform="rotate(-0 1038.95 715.730602)">40</text>
     </g>
    </g>
    <g id="ytick_25">
     <g id="line2d_139">
      <g>
       <path d="M 0 0 L 3.5 0" transform="translate(1031.95 687.985104)" style="stroke: #000000; stroke-width: 0.8"/>
      </g>
     </g>
     <g id="tx088" transform="translate(-0.120 -0.120)">
      <text style="font-size: 10px; font-family: 'DejaVu Sans', 'Liberation Sans', sans-serif; text-anchor: start" x="1038.95" y="691.945104" transform="rotate(-0 1038.95 691.945104)">50</text>
     </g>
    </g>
    <g id="ytick_26">
     <g id="line2d_140">
      <g>
       <path d="M 0 0 L 3.5 0" transform="translate(1031.95 664.199607)" style="stroke: #000000; stroke-width: 0.8"/>
      </g>
     </g>
     <g id="tx089" transform="translate(0.120 -0.360)">
      <text style="font-size: 10px; font-family: 'DejaVu Sans', 'Liberation Sans', sans-serif; text-anchor: start" x="1038.95" y="668.159607" transform="rotate(-0 1038.95 668.159607)">60</text>
     </g>
    </g>
    <g id="ytick_27">
     <g id="line2d_141">
      <g>
       <path d="M 0 0 L 3.5 0" transform="translate(1031.95 640.41411)" style="stroke: #000000; stroke-width: 0.8"/>
      </g>
     </g>
     <g id="tx090" transform="translate(-0.120 -0.360)">
      <text style="font-size: 10px; font-family: 'DejaVu Sans', 'Liberation Sans', sans-serif; text-anchor: start" x="1038.95" y="644.37411" transform="rotate(-0 1038.95 644.37411)">70</text>
     </g>
    </g>
    <g id="ytick_28">
     <g id="line2d_142">
      <g>
       <path d="M 0 0 L 3.5 0" transform="translate(1031.95 616.628613)" style="stroke: #000000; stroke-width: 0.8"/>
      </g>
     </g>
     <g id="tx091" transform="translate(0.120 -0.360)">
      <text style="font-size: 10px; font-family: 'DejaVu Sans', 'Liberation Sans', sans-serif; text-anchor: start" x="1038.95" y="620.588613" transform="rotate(-0 1038.95 620.588613)">80</text>
     </g>
    </g>
    <g id="ytick_29">
     <g id="line2d_143">
      <g>
       <path d="M 0 0 L 3.5 0" transform="translate(1031.95 592.843115)" style="stroke: #000000; stroke-width: 0.8"/>
      </g>
     </g>
     <g id="tx092" transform="translate(0.120 -0.360)">
      <text style="font-size: 10px; font-family: 'DejaVu Sans', 'Liberation Sans', sans-serif; text-anchor: start" x="1038.95" y="596.803115" transform="rotate(-0 1038.95 596.803115)">90</text>
     </g>
    </g>
    <g id="tx083" transform="translate(0.360 1.320)">
     <text style="font-size: 10px; font-family: 'DejaVu Sans', 'Liberation Sans', sans-serif; text-anchor: middle" x="1063.62" y="678.3163" transform="rotate(-90 1063.62 678.3163)">RSI</text>
    </g>
   </g>
   <g id="line2d_144">
    <path d="M 142.669743 694.465175 L 145.624653 694.998854 L 148.579564 702.47036 L 151.534474 700.015437 L 154.489384 703.537718 L 157.444295 678.988484 L 160.399205 630.210224 L 163.354115 629.676545 L 166.309026 639.496238 L 169.263936 660.843398 L 172.218846 641.097275 L 175.173756 622.738718 L 178.128667 636.614372 L 181.083577 636.4009 L 184.038487 628.288979 L 186.993398 647.287952 L 189.948308 652.304534 L 192.903218 663.298322 L 195.858129 654.972929 L 198.813039 666.180188 L 201.767949 685.926311 L 204.72286 701.403002 L 207.67777 698.734607 L 210.63268 692.116988 L 213.58759 698.948079 L 216.542501 709.941866 L 219.497411 712.823733 L 222.452321 727.553273 L 225.407232 747.833075 L 228.362142 723.283841 L 231.317052 694.998854 L 234.271963 691.04963 L 237.226873 682.937709 L 240.181783 662.657907 L 243.136694 670.129413 L 246.091604 659.989512 L 249.046514 665.433038 L 252.001424 669.382262 L 254.956335 667.567754 L 257.911245 684.005067 L 260.866155 652.624742 L 263.821066 656.253759 L 266.775976 654.972929 L 269.730886 679.522163 L 272.685797 699.801965 L 275.640707 703.004039 L 278.595617 732.890063 L 281.550528 752.956394 L 284.505438 737.159495 L 287.460348 720.615446 L 290.415258 713.14394 L 293.370169 708.874508 L 296.325079 707.06 L 299.279989 714.958449 L 302.2349 733.850686 L 305.18981 713.944459 L 308.14472 729.474518 L 311.099631 716.346014 L 314.054541 707.273471 L 317.009451 689.341857 L 319.964362 691.263101 L 322.919272 664.792623 L 325.874182 662.444435 L 328.829092 671.516978 L 331.784003 680.055842 L 334.738913 669.382262 L 337.693823 661.377077 L 340.648734 623.485868 L 343.603644 624.019547 L 346.558554 643.445463 L 349.513465 614.199854 L 352.468375 618.149078 L 355.423285 624.233019 L 358.378196 610.99778 L 361.333106 619.536644 L 364.288016 625.300377 L 367.242926 620.283794 L 370.197837 613.132496 L 373.152747 638.108673 L 376.107657 627.7553 L 379.062568 635.760485 L 382.017478 651.557384 L 384.972388 642.698312 L 387.927299 648.035102 L 390.882209 651.984327 L 393.837119 645.900386 L 396.792029 638.42888 L 399.74694 672.264129 L 402.70185 665.11283 L 405.65676 675.519571 L 408.611671 675.252731 L 411.566581 687.527348 L 414.521491 676.533561 L 417.476402 701.936681 L 420.431312 706.739792 L 423.386222 687.207141 L 426.341133 714.211298 L 429.296043 722.216483 L 432.250953 723.07037 L 435.205863 726.699387 L 438.160774 743.563643 L 441.115684 720.295239 L 444.070594 732.356384 L 447.025505 720.295239 L 449.980415 747.833075 L 452.935325 744.310794 L 455.890236 722.003012 L 458.845146 719.014409 L 461.800056 716.346014 L 464.754967 735.558458 L 467.709877 708.127358 L 470.664787 701.936681 L 473.619697 683.578124 L 476.574608 689.341857 L 479.529518 693.611289 L 482.484428 706.419585 L 485.439339 681.1232 L 488.394249 691.476573 L 491.349159 673.331487 L 494.30407 684.325274 L 497.25898 700.335644 L 500.21389 702.790568 L 503.168801 700.655852 L 506.123711 715.278656 L 509.078621 704.071397 L 512.033531 682.937709 L 514.988442 713.14394 L 517.943352 678.454805 L 520.898262 634.159448 L 523.853173 620.283794 L 526.808083 617.615399 L 529.762993 610.99778 L 532.717904 613.559439 L 535.672814 618.469286 L 538.627724 618.469286 L 544.537545 608.009177 L 547.492455 593.066165 L 550.447365 594.667202 L 553.402276 613.559439 L 556.357186 604.807103 L 559.312096 607.155291 L 562.267007 637.895201 L 565.221917 653.905571 L 568.176827 678.454805 L 571.131738 691.79678 L 574.086648 696.38642 L 577.041558 683.578124 L 579.996469 696.066212 L 582.951379 697.667249 L 585.906289 727.019594 L 588.861199 721.149125 L 591.81611 725.952236 L 594.77102 718.267259 L 597.72593 722.003012 L 600.680841 729.474518 L 603.635751 724.351199 L 606.590661 708.07399 L 609.545572 697.453778 L 612.500482 697.880721 L 615.455392 696.066212 L 618.410303 724.351199 L 621.365213 740.361569 L 624.320123 739.08074 L 627.275033 723.07037 L 630.229944 733.103535 L 633.184854 719.227881 L 636.139764 716.346014 L 639.094675 717.947051 L 642.049585 735.558458 L 645.004495 731.609234 L 647.959406 729.15431 L 650.914316 734.170893 L 653.869226 743.029964 L 656.824137 746.232038 L 659.779047 737.372967 L 662.733957 708.340829 L 665.688867 712.39679 L 668.643778 729.687989 L 671.598688 717.947051 L 674.553598 722.429955 L 677.508509 719.548088 L 680.463419 723.283841 L 683.418329 702.790568 L 686.37324 700.335644 L 689.32815 715.278656 L 692.28306 716.346014 L 698.192881 630.423695 L 701.147791 654.759458 L 704.102701 664.045472 L 707.057612 665.11283 L 710.012522 681.656879 L 712.967432 688.061027 L 715.922343 730.541876 L 718.877253 713.677619 L 721.832163 681.1232 L 724.787074 684.858953 L 727.741984 673.118015 L 730.696894 669.915941 L 733.651805 683.257916 L 736.606715 678.241334 L 739.561625 684.858953 L 742.516535 664.579151 L 745.471446 666.713867 L 748.426356 665.646509 L 751.381266 653.905571 L 754.336177 660.309719 L 757.291087 619.536644 L 760.245997 641.097275 L 763.200908 653.905571 L 766.155818 645.366707 L 769.110728 642.698312 L 772.065638 643.76567 L 775.020549 612.812288 L 777.975459 629.356337 L 780.930369 629.569809 L 783.88528 650.916969 L 786.84019 653.905571 L 789.7951 661.910756 L 792.750011 675.78641 L 795.704921 669.382262 L 798.659831 694.465175 L 801.614742 682.510766 L 804.569652 680.055842 L 807.524562 689.928904 L 810.479472 730.221668 L 813.434383 726.272444 L 816.389293 744.097322 L 819.344203 738.440325 L 822.299114 752.956394 L 825.254024 720.615446 L 828.208934 727.339802 L 831.163845 713.14394 L 834.118755 693.397817 L 837.073665 682.724237 L 840.028576 677.387447 L 842.983486 675.466203 L 845.938396 691.476573 L 848.893306 695.746005 L 851.848217 678.454805 L 854.803127 699.268286 L 857.758037 701.082795 L 860.712948 700.015437 L 863.667858 683.257916 L 866.622768 706.739792 L 869.577679 684.858953 L 872.532589 700.335644 L 875.487499 725.418557 L 878.44241 746.979189 L 881.39732 756.158468 L 887.30714 757.652769 L 890.262051 763.309766 L 893.216961 755.83826 L 896.171871 752.315979 L 899.126782 749.434112 L 902.081692 736.946024 L 905.036602 752.102507 L 907.991513 749.434112 L 910.946423 741.962606 L 913.901333 738.226853 L 916.856244 718.48073 L 919.811154 728.620631 L 922.766064 690.729422 L 925.720974 700.335644 L 928.675885 692.330459 L 931.630795 686.780198 L 934.585705 701.72321 L 937.540616 701.72321 L 940.495526 688.914914 L 943.450436 697.13357 L 946.405347 703.004039 L 949.360257 701.403002 L 952.315167 705.138755 L 955.270078 722.003012 L 958.224988 722.750162 L 961.179898 712.076582 L 964.134808 719.868296 L 967.089719 708.127358 L 970.044629 723.283841 L 972.999539 736.092137 L 975.95445 741.642399 L 978.90936 738.013382 L 981.86427 729.901461 L 984.819181 748.046547 L 987.774091 709.408187 L 987.774091 709.408187" clip-path="url(#pef9d2f7bd6)" style="fill: none; stroke: #ffa500; stroke-opacity: 0.6; stroke-width: 1.5; stroke-linecap: square"/>
   </g>
   <g id="line2d_145">
    <path d="M 60.08 640.41411 L 1031.95 640.41411" clip-path="url(#pef9d2f7bd6)" style="fill: none; stroke-dasharray: 1.5,2.475; stroke-dashoffset: 0; stroke: #ff0000; stroke-opacity: 0.5; stroke-width: 1.5"/>
   </g>
   <g id="line2d_146">
    <path d="M 60.08 735.556099 L 1031.95 735.556099" clip-path="url(#pef9d2f7bd6)" style="fill: none; stroke-dasharray: 1.5,2.475; stroke-dashoffset: 0; stroke: #008000; stroke-opacity: 0.5; stroke-width: 1.5"/>
   </g>
   <g id="patch_20">
    <path d="M 60.08 772.019266 L 60.08 584.613333" style="fill: none; stroke: #000000; stroke-width: 0.8; stroke-linejoin: miter; stroke-linecap: square"/>
   </g>
   <g id="patch_21">
    <path d="M 1031.95 772.019266 L 1031.95 584.613333" style="fill: none; stroke: #000000; stroke-width: 0.8; stroke-linejoin: miter; stroke-linecap: square"/>
   </g>
   <g id="patch_22">
    <path d="M 60.08 772.019266 L 1031.95 772.019266" style="fill: none; stroke: #000000; stroke-width: 0.8; stroke-linejoin: miter; stroke-linecap: square"/>
   </g>
   <g id="patch_23">
    <path d="M 60.08 584.613333 L 1031.95 584.613333" style="fill: none; stroke: #000000; stroke-width: 0.8; stroke-linejoin: miter; stroke-linecap: square"/>
   </g>
   <g id="legend_4">
    <g id="patch_24">
     <path d="M 976.66 607.693333 L 1024.95 607.693333 Q 1026.95 607.693333 1026.95 605.693333 L 1026.95 591.613333 Q 1026.95 589.613333 1024.95 589.613333 L 976.66 589.613333 Q 974.66 589.613333 974.66 591.613333 L 974.66 605.693333 Q 974.66 607.693333 976.66 607.693333 z" style="fill: #ffffff; opacity: 0.8; stroke: #cccccc; stroke-linejoin: miter"/>
    </g>
    <g id="line2d_147">
     <path d="M 978.66 598.033333 L 988.66 598.033333 L 998.66 598.033333" style="fill: none; stroke: #ffa500; stroke-opacity: 0.6; stroke-width: 1.5; stroke-linecap: square"/>
    </g>
    <g id="tx094" transform="translate(0.000 -0.120)">
     <text style="font-size: 10px; font-family: 'DejaVu Sans', 'Liberation Sans', sans-serif; text-anchor: start" x="1006.66" y="601.533333" transform="rotate(-0 1006.66 601.533333)">RSI</text>
    </g>
   </g>
  </g>
  <g id="tx095" transform="translate(0.120 -0.240)">
   <text style="font-weight: 700; font-size: 16px; font-family: 'DejaVu Sans', 'Liberation Sans', sans-serif; text-anchor: middle" x="536.52" y="19.68" transform="rotate(-0 536.52 19.68)">Smart Trader Backtest Results: ETHUSDT</text>
  </g>
 </g>
 <defs>
  <clipPath id="pe644cf9494">
   <rect x="60.08" y="42" width="971.87" height="187.405933"/>
  </clipPath>
  <clipPath id="p9d5c9749b2">
   <rect x="60.08" y="313.306667" width="971.87" height="187.405933"/>
  </clipPath>
  <clipPath id="pef9d2f7bd6">
   <rect x="60.08" y="584.613333" width="971.87" height="187.405933"/>
  </clipPath>
 </defs>
</svg>
</body>
</html>
